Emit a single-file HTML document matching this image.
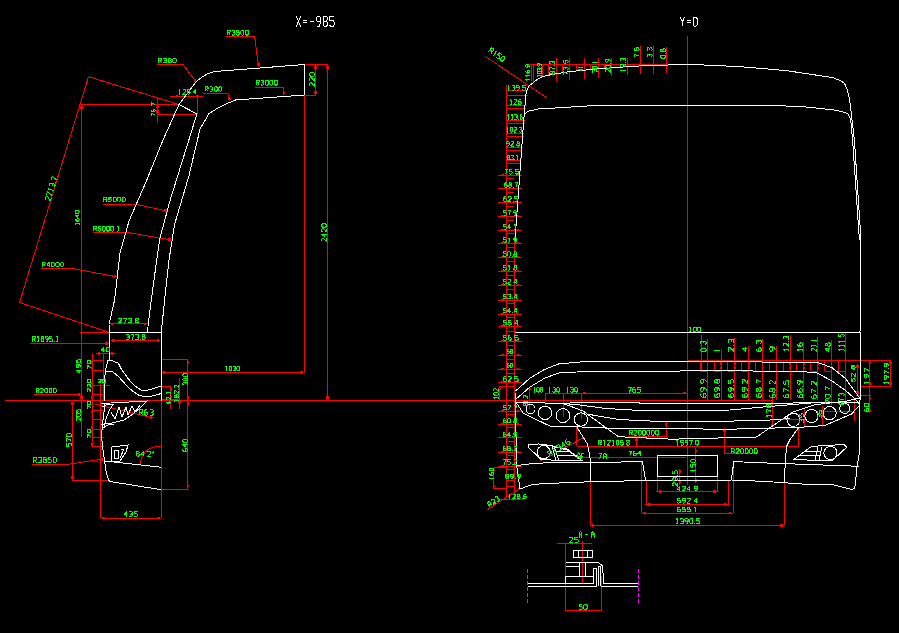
<!DOCTYPE html>
<html><head><meta charset="utf-8"><style>
html,body{margin:0;padding:0;background:#000;width:899px;height:633px;overflow:hidden}
svg{display:block}
text{font-family:"Liberation Sans",sans-serif}
</style></head><body>
<svg width="899" height="633" viewBox="0 0 899 633" shape-rendering="crispEdges">
<rect width="899" height="633" fill="#000"/>
<line x1="5.0" y1="400.5" x2="772.5" y2="400.5" stroke="#f00" stroke-width="1"/>
<polyline points="88.5,76.7 179.0,104.5" stroke="#f00" stroke-width="1" fill="none"/>
<polyline points="88.5,76.7 19.6,302.4 109.0,332.3" stroke="#f00" stroke-width="1" fill="none"/>
<line x1="80.5" y1="104.5" x2="179.0" y2="104.5" stroke="#f00" stroke-width="1"/>
<line x1="81.5" y1="104.5" x2="81.5" y2="437.3" stroke="#f00" stroke-width="1"/>
<line x1="157.5" y1="96.7" x2="157.5" y2="123.4" stroke="#f00" stroke-width="1"/>
<line x1="157.5" y1="114.0" x2="197.0" y2="114.0" stroke="#f00" stroke-width="1"/>
<line x1="170.0" y1="96.1" x2="203.4" y2="96.1" stroke="#f00" stroke-width="1"/>
<line x1="197.0" y1="96.1" x2="197.0" y2="114.0" stroke="#f00" stroke-width="1"/>
<polyline points="225.2,36.3 254.6,36.3 258.6,66.5" stroke="#f00" stroke-width="1" fill="none"/>
<polyline points="157.0,64.5 183.0,64.5 195.6,81.2" stroke="#f00" stroke-width="1" fill="none"/>
<polyline points="203.0,93.4 227.9,93.4 230.0,101.2" stroke="#f00" stroke-width="1" fill="none"/>
<polyline points="255.0,87.4 283.0,87.4 284.0,95.2" stroke="#f00" stroke-width="1" fill="none"/>
<line x1="304.6" y1="64.5" x2="328.0" y2="64.5" stroke="#f00" stroke-width="1"/>
<line x1="315.7" y1="64.5" x2="315.7" y2="95.2" stroke="#f00" stroke-width="1"/>
<line x1="304.6" y1="95.2" x2="316.0" y2="95.2" stroke="#f00" stroke-width="1"/>
<line x1="327.5" y1="64.5" x2="327.5" y2="400.5" stroke="#f00" stroke-width="1"/>
<line x1="304.6" y1="95.2" x2="304.6" y2="372.3" stroke="#f00" stroke-width="1"/>
<line x1="161.3" y1="372.3" x2="304.6" y2="372.3" stroke="#f00" stroke-width="1"/>
<polyline points="103.0,204.0 134.6,204.0 166.9,211.0" stroke="#f00" stroke-width="1" fill="none"/>
<polyline points="93.0,232.3 126.8,232.3 171.3,240.0" stroke="#f00" stroke-width="1" fill="none"/>
<polyline points="41.0,268.3 71.0,268.3 116.8,276.8" stroke="#f00" stroke-width="1" fill="none"/>
<line x1="109.0" y1="323.8" x2="148.0" y2="323.8" stroke="#f00" stroke-width="1"/>
<line x1="80.0" y1="332.3" x2="109.0" y2="332.3" stroke="#f00" stroke-width="1"/>
<line x1="111.0" y1="340.5" x2="160.0" y2="340.5" stroke="#f00" stroke-width="1"/>
<polyline points="30.0,343.4 87.0,343.4 109.0,343.4" stroke="#f00" stroke-width="1" fill="none"/>
<line x1="95.7" y1="353.4" x2="115.7" y2="353.4" stroke="#f00" stroke-width="1"/>
<line x1="93.4" y1="385.0" x2="110.0" y2="385.0" stroke="#f00" stroke-width="1"/>
<polyline points="33.8,394.5 81.0,394.5" stroke="#f00" stroke-width="1" fill="none"/>
<line x1="92.0" y1="353.0" x2="92.0" y2="446.8" stroke="#f00" stroke-width="1"/>
<line x1="100.8" y1="384.0" x2="100.8" y2="518.0" stroke="#f00" stroke-width="1"/>
<line x1="103.4" y1="353.0" x2="103.4" y2="400.0" stroke="#f00" stroke-width="1"/>
<line x1="92.0" y1="360.2" x2="104.0" y2="360.2" stroke="#f00" stroke-width="1"/>
<line x1="92.0" y1="370.8" x2="104.0" y2="370.8" stroke="#f00" stroke-width="1"/>
<line x1="92.0" y1="385.0" x2="104.0" y2="385.0" stroke="#f00" stroke-width="1"/>
<line x1="92.0" y1="394.6" x2="104.0" y2="394.6" stroke="#f00" stroke-width="1"/>
<line x1="92.0" y1="410.0" x2="104.0" y2="410.0" stroke="#f00" stroke-width="1"/>
<line x1="92.0" y1="419.5" x2="104.0" y2="419.5" stroke="#f00" stroke-width="1"/>
<line x1="92.0" y1="429.7" x2="104.0" y2="429.7" stroke="#f00" stroke-width="1"/>
<line x1="92.0" y1="437.3" x2="104.0" y2="437.3" stroke="#f00" stroke-width="1"/>
<line x1="92.0" y1="446.8" x2="104.0" y2="446.8" stroke="#f00" stroke-width="1"/>
<line x1="72.3" y1="402.9" x2="72.3" y2="480.0" stroke="#f00" stroke-width="1"/>
<line x1="72.3" y1="480.0" x2="109.0" y2="480.0" stroke="#f00" stroke-width="1"/>
<polyline points="32.0,464.5 66.7,464.5 103.4,459.0" stroke="#f00" stroke-width="1" fill="none"/>
<polyline points="94.8,404.0 153.5,418.0" stroke="#f00" stroke-width="1" fill="none"/>
<line x1="161.3" y1="400.5" x2="161.3" y2="518.0" stroke="#f00" stroke-width="1"/>
<line x1="100.5" y1="518.0" x2="161.3" y2="518.0" stroke="#f00" stroke-width="1"/>
<line x1="161.3" y1="359.6" x2="188.0" y2="359.6" stroke="#f00" stroke-width="1"/>
<line x1="187.9" y1="359.6" x2="187.9" y2="489.0" stroke="#f00" stroke-width="1"/>
<line x1="161.3" y1="489.0" x2="187.9" y2="489.0" stroke="#f00" stroke-width="1"/>
<line x1="161.3" y1="386.6" x2="171.0" y2="386.6" stroke="#f00" stroke-width="1"/>
<line x1="161.3" y1="399.0" x2="179.0" y2="399.0" stroke="#f00" stroke-width="1"/>
<line x1="170.8" y1="386.6" x2="170.8" y2="408.5" stroke="#f00" stroke-width="1"/>
<line x1="179.7" y1="378.0" x2="179.7" y2="408.5" stroke="#f00" stroke-width="1"/>
<path d="M140.4,463.5 Q142,449 156.6,446.4 L161,446.6" stroke="#f00" stroke-width="1" fill="none"/>
<line x1="687.5" y1="36.0" x2="687.5" y2="485.0" stroke="#f00" stroke-width="1"/>
<polyline points="485.0,56.1 546.7,97.8" stroke="#f00" stroke-width="1" fill="none"/>
<line x1="530.4" y1="64.7" x2="677.0" y2="64.7" stroke="#f00" stroke-width="1"/>
<line x1="531.7" y1="64.0" x2="531.7" y2="81.3" stroke="#f00" stroke-width="1"/>
<line x1="542.7" y1="64.0" x2="542.7" y2="76.6" stroke="#f00" stroke-width="1"/>
<line x1="556.0" y1="57.7" x2="556.0" y2="82.3" stroke="#f00" stroke-width="1"/>
<line x1="569.5" y1="57.7" x2="569.5" y2="80.4" stroke="#f00" stroke-width="1"/>
<line x1="584.3" y1="57.7" x2="584.3" y2="78.5" stroke="#f00" stroke-width="1"/>
<line x1="598.0" y1="57.7" x2="598.0" y2="77.5" stroke="#f00" stroke-width="1"/>
<line x1="611.7" y1="57.7" x2="611.7" y2="75.7" stroke="#f00" stroke-width="1"/>
<line x1="627.4" y1="57.7" x2="627.4" y2="74.7" stroke="#f00" stroke-width="1"/>
<line x1="640.5" y1="46.3" x2="640.5" y2="73.8" stroke="#f00" stroke-width="1"/>
<line x1="653.7" y1="46.3" x2="653.7" y2="73.8" stroke="#f00" stroke-width="1"/>
<line x1="666.2" y1="47.3" x2="666.2" y2="72.8" stroke="#f00" stroke-width="1"/>
<line x1="533.9" y1="64.0" x2="533.9" y2="82.1" stroke="#f00" stroke-width="1"/>
<line x1="548.1" y1="64.0" x2="548.1" y2="75.3" stroke="#f00" stroke-width="1"/>
<line x1="562.4" y1="64.0" x2="562.4" y2="72.8" stroke="#f00" stroke-width="1"/>
<line x1="576.6" y1="64.0" x2="576.6" y2="70.9" stroke="#f00" stroke-width="1"/>
<line x1="590.8" y1="64.0" x2="590.8" y2="69.5" stroke="#f00" stroke-width="1"/>
<line x1="604.5" y1="64.0" x2="604.5" y2="68.3" stroke="#f00" stroke-width="1"/>
<line x1="620.0" y1="64.0" x2="620.0" y2="67.2" stroke="#f00" stroke-width="1"/>
<line x1="633.5" y1="64.0" x2="633.5" y2="66.2" stroke="#f00" stroke-width="1"/>
<line x1="646.5" y1="64.0" x2="646.5" y2="65.8" stroke="#f00" stroke-width="1"/>
<line x1="659.5" y1="64.0" x2="659.5" y2="65.3" stroke="#f00" stroke-width="1"/>
<line x1="506.7" y1="90.6" x2="506.7" y2="498.0" stroke="#f00" stroke-width="1"/>
<line x1="514.3" y1="240.0" x2="514.3" y2="495.5" stroke="#f00" stroke-width="1"/>
<line x1="506.7" y1="85.0" x2="506.7" y2="90.6" stroke="#f00" stroke-width="1"/>
<line x1="506.7" y1="90.8" x2="527.9" y2="90.8" stroke="#f00" stroke-width="1"/>
<line x1="506.7" y1="95.5" x2="527.5" y2="95.5" stroke="#f00" stroke-width="1"/>
<line x1="506.7" y1="105.3" x2="526.6" y2="105.3" stroke="#f00" stroke-width="1"/>
<line x1="506.7" y1="108.5" x2="526.3" y2="108.5" stroke="#f00" stroke-width="1"/>
<line x1="506.7" y1="120.3" x2="525.2" y2="120.3" stroke="#f00" stroke-width="1"/>
<line x1="506.7" y1="123.5" x2="524.9" y2="123.5" stroke="#f00" stroke-width="1"/>
<line x1="506.7" y1="133.0" x2="524.0" y2="133.0" stroke="#f00" stroke-width="1"/>
<line x1="506.7" y1="136.2" x2="523.7" y2="136.2" stroke="#f00" stroke-width="1"/>
<line x1="506.7" y1="147.2" x2="522.7" y2="147.2" stroke="#f00" stroke-width="1"/>
<line x1="506.7" y1="150.4" x2="522.4" y2="150.4" stroke="#f00" stroke-width="1"/>
<line x1="506.7" y1="160.7" x2="521.4" y2="160.7" stroke="#f00" stroke-width="1"/>
<line x1="506.7" y1="163.9" x2="521.1" y2="163.9" stroke="#f00" stroke-width="1"/>
<line x1="498.2" y1="175.2" x2="522.0" y2="175.2" stroke="#f00" stroke-width="1"/>
<line x1="498.2" y1="188.8" x2="522.0" y2="188.8" stroke="#f00" stroke-width="1"/>
<line x1="498.2" y1="202.8" x2="522.0" y2="202.8" stroke="#f00" stroke-width="1"/>
<line x1="498.2" y1="216.6" x2="522.0" y2="216.6" stroke="#f00" stroke-width="1"/>
<line x1="498.2" y1="230.4" x2="522.0" y2="230.4" stroke="#f00" stroke-width="1"/>
<line x1="498.2" y1="243.6" x2="522.0" y2="243.6" stroke="#f00" stroke-width="1"/>
<line x1="498.2" y1="257.5" x2="522.0" y2="257.5" stroke="#f00" stroke-width="1"/>
<line x1="498.2" y1="271.4" x2="522.0" y2="271.4" stroke="#f00" stroke-width="1"/>
<line x1="498.2" y1="285.4" x2="522.0" y2="285.4" stroke="#f00" stroke-width="1"/>
<line x1="498.2" y1="300.6" x2="522.0" y2="300.6" stroke="#f00" stroke-width="1"/>
<line x1="498.2" y1="314.5" x2="522.0" y2="314.5" stroke="#f00" stroke-width="1"/>
<line x1="498.2" y1="326.1" x2="522.0" y2="326.1" stroke="#f00" stroke-width="1"/>
<line x1="498.2" y1="341.3" x2="522.0" y2="341.3" stroke="#f00" stroke-width="1"/>
<line x1="498.2" y1="355.2" x2="522.0" y2="355.2" stroke="#f00" stroke-width="1"/>
<line x1="498.2" y1="369.2" x2="522.0" y2="369.2" stroke="#f00" stroke-width="1"/>
<line x1="498.2" y1="382.5" x2="522.0" y2="382.5" stroke="#f00" stroke-width="1"/>
<line x1="498.2" y1="411.3" x2="522.0" y2="411.3" stroke="#f00" stroke-width="1"/>
<line x1="498.2" y1="424.3" x2="522.0" y2="424.3" stroke="#f00" stroke-width="1"/>
<line x1="498.2" y1="437.8" x2="522.0" y2="437.8" stroke="#f00" stroke-width="1"/>
<line x1="498.2" y1="452.0" x2="522.0" y2="452.0" stroke="#f00" stroke-width="1"/>
<line x1="498.2" y1="466.0" x2="522.0" y2="466.0" stroke="#f00" stroke-width="1"/>
<line x1="498.2" y1="499.8" x2="522.0" y2="499.8" stroke="#f00" stroke-width="1"/>
<line x1="506.7" y1="178.6" x2="514.3" y2="178.6" stroke="#f00" stroke-width="1"/>
<line x1="506.7" y1="192.2" x2="514.3" y2="192.2" stroke="#f00" stroke-width="1"/>
<line x1="506.7" y1="206.2" x2="514.3" y2="206.2" stroke="#f00" stroke-width="1"/>
<line x1="506.7" y1="220.0" x2="514.3" y2="220.0" stroke="#f00" stroke-width="1"/>
<line x1="506.7" y1="233.8" x2="514.3" y2="233.8" stroke="#f00" stroke-width="1"/>
<line x1="506.7" y1="247.4" x2="514.3" y2="247.4" stroke="#f00" stroke-width="1"/>
<line x1="506.7" y1="261.3" x2="514.3" y2="261.3" stroke="#f00" stroke-width="1"/>
<line x1="506.7" y1="275.2" x2="514.3" y2="275.2" stroke="#f00" stroke-width="1"/>
<line x1="506.7" y1="289.2" x2="514.3" y2="289.2" stroke="#f00" stroke-width="1"/>
<line x1="506.7" y1="303.0" x2="514.3" y2="303.0" stroke="#f00" stroke-width="1"/>
<line x1="506.7" y1="317.3" x2="514.3" y2="317.3" stroke="#f00" stroke-width="1"/>
<line x1="506.7" y1="331.2" x2="514.3" y2="331.2" stroke="#f00" stroke-width="1"/>
<line x1="506.7" y1="345.0" x2="514.3" y2="345.0" stroke="#f00" stroke-width="1"/>
<line x1="506.7" y1="359.0" x2="514.3" y2="359.0" stroke="#f00" stroke-width="1"/>
<line x1="506.7" y1="373.0" x2="514.3" y2="373.0" stroke="#f00" stroke-width="1"/>
<line x1="506.7" y1="386.3" x2="514.3" y2="386.3" stroke="#f00" stroke-width="1"/>
<line x1="506.7" y1="414.5" x2="514.3" y2="414.5" stroke="#f00" stroke-width="1"/>
<line x1="506.7" y1="427.5" x2="514.3" y2="427.5" stroke="#f00" stroke-width="1"/>
<line x1="506.7" y1="441.0" x2="514.3" y2="441.0" stroke="#f00" stroke-width="1"/>
<line x1="506.7" y1="455.2" x2="514.3" y2="455.2" stroke="#f00" stroke-width="1"/>
<line x1="506.7" y1="469.0" x2="514.3" y2="469.0" stroke="#f00" stroke-width="1"/>
<line x1="506.7" y1="480.0" x2="514.3" y2="480.0" stroke="#f00" stroke-width="1"/>
<line x1="506.7" y1="486.0" x2="514.3" y2="486.0" stroke="#f00" stroke-width="1"/>
<line x1="493.9" y1="467.7" x2="493.9" y2="488.5" stroke="#f00" stroke-width="1"/>
<line x1="493.9" y1="467.7" x2="506.0" y2="467.7" stroke="#f00" stroke-width="1"/>
<line x1="493.9" y1="488.5" x2="506.0" y2="488.5" stroke="#f00" stroke-width="1"/>
<polyline points="487.0,510.0 520.0,488.5" stroke="#f00" stroke-width="1" fill="none"/>
<line x1="499.5" y1="386.3" x2="499.5" y2="400.5" stroke="#f00" stroke-width="1"/>
<line x1="499.5" y1="386.3" x2="506.7" y2="386.3" stroke="#f00" stroke-width="1"/>
<line x1="544.5" y1="393.4" x2="600.0" y2="393.4" stroke="#f00" stroke-width="1"/>
<line x1="545.6" y1="393.4" x2="545.6" y2="407.0" stroke="#f00" stroke-width="1"/>
<line x1="563.4" y1="393.4" x2="563.4" y2="417.0" stroke="#f00" stroke-width="1"/>
<line x1="581.8" y1="393.4" x2="581.8" y2="419.0" stroke="#f00" stroke-width="1"/>
<line x1="529.8" y1="388.0" x2="529.8" y2="409.0" stroke="#f00" stroke-width="1"/>
<line x1="581.7" y1="393.0" x2="686.8" y2="393.0" stroke="#f00" stroke-width="1"/>
<line x1="581.7" y1="393.0" x2="581.7" y2="419.2" stroke="#f00" stroke-width="1"/>
<line x1="688.0" y1="360.4" x2="890.7" y2="360.4" stroke="#f00" stroke-width="1"/>
<line x1="707.2" y1="339.0" x2="707.2" y2="399.5" stroke="#f00" stroke-width="1"/>
<line x1="700.2" y1="360.4" x2="700.2" y2="371.0" stroke="#f00" stroke-width="1"/>
<line x1="700.2" y1="371.0" x2="707.2" y2="371.0" stroke="#f00" stroke-width="1"/>
<line x1="721.0" y1="349.0" x2="721.0" y2="399.5" stroke="#f00" stroke-width="1"/>
<line x1="714.0" y1="360.4" x2="714.0" y2="371.0" stroke="#f00" stroke-width="1"/>
<line x1="714.0" y1="371.0" x2="721.0" y2="371.0" stroke="#f00" stroke-width="1"/>
<line x1="734.9" y1="338.0" x2="734.9" y2="399.5" stroke="#f00" stroke-width="1"/>
<line x1="727.9" y1="360.4" x2="727.9" y2="371.0" stroke="#f00" stroke-width="1"/>
<line x1="727.9" y1="371.0" x2="734.9" y2="371.0" stroke="#f00" stroke-width="1"/>
<line x1="748.6" y1="346.0" x2="748.6" y2="399.5" stroke="#f00" stroke-width="1"/>
<line x1="741.6" y1="360.4" x2="741.6" y2="371.0" stroke="#f00" stroke-width="1"/>
<line x1="741.6" y1="371.0" x2="748.6" y2="371.0" stroke="#f00" stroke-width="1"/>
<line x1="762.5" y1="339.0" x2="762.5" y2="399.5" stroke="#f00" stroke-width="1"/>
<line x1="755.5" y1="360.4" x2="755.5" y2="371.0" stroke="#f00" stroke-width="1"/>
<line x1="755.5" y1="371.0" x2="762.5" y2="371.0" stroke="#f00" stroke-width="1"/>
<line x1="776.2" y1="345.7" x2="776.2" y2="399.5" stroke="#f00" stroke-width="1"/>
<line x1="769.2" y1="360.4" x2="769.2" y2="371.0" stroke="#f00" stroke-width="1"/>
<line x1="769.2" y1="371.0" x2="776.2" y2="371.0" stroke="#f00" stroke-width="1"/>
<line x1="790.0" y1="335.0" x2="790.0" y2="399.5" stroke="#f00" stroke-width="1"/>
<line x1="783.0" y1="360.4" x2="783.0" y2="371.0" stroke="#f00" stroke-width="1"/>
<line x1="783.0" y1="371.0" x2="790.0" y2="371.0" stroke="#f00" stroke-width="1"/>
<line x1="803.9" y1="341.7" x2="803.9" y2="399.5" stroke="#f00" stroke-width="1"/>
<line x1="796.9" y1="360.4" x2="796.9" y2="371.0" stroke="#f00" stroke-width="1"/>
<line x1="796.9" y1="371.0" x2="803.9" y2="371.0" stroke="#f00" stroke-width="1"/>
<line x1="817.6" y1="337.0" x2="817.6" y2="399.5" stroke="#f00" stroke-width="1"/>
<line x1="810.6" y1="360.4" x2="810.6" y2="371.0" stroke="#f00" stroke-width="1"/>
<line x1="810.6" y1="371.0" x2="817.6" y2="371.0" stroke="#f00" stroke-width="1"/>
<line x1="831.5" y1="339.7" x2="831.5" y2="405.0" stroke="#f00" stroke-width="1"/>
<line x1="824.5" y1="360.4" x2="824.5" y2="371.0" stroke="#f00" stroke-width="1"/>
<line x1="824.5" y1="371.0" x2="831.5" y2="371.0" stroke="#f00" stroke-width="1"/>
<line x1="845.2" y1="333.0" x2="845.2" y2="405.0" stroke="#f00" stroke-width="1"/>
<line x1="838.2" y1="360.4" x2="838.2" y2="371.0" stroke="#f00" stroke-width="1"/>
<line x1="838.2" y1="371.0" x2="845.2" y2="371.0" stroke="#f00" stroke-width="1"/>
<line x1="701.0" y1="335.0" x2="701.0" y2="371.0" stroke="#f00" stroke-width="1"/>
<line x1="857.5" y1="364.0" x2="857.5" y2="395.0" stroke="#f00" stroke-width="1"/>
<line x1="856.0" y1="395.0" x2="871.0" y2="395.0" stroke="#f00" stroke-width="1"/>
<line x1="869.9" y1="360.4" x2="869.9" y2="413.0" stroke="#f00" stroke-width="1"/>
<line x1="890.7" y1="360.4" x2="890.7" y2="386.0" stroke="#f00" stroke-width="1"/>
<line x1="860.0" y1="386.0" x2="890.7" y2="386.0" stroke="#f00" stroke-width="1"/>
<line x1="772.1" y1="393.0" x2="772.1" y2="428.4" stroke="#f00" stroke-width="1"/>
<line x1="772.0" y1="419.3" x2="802.7" y2="419.3" stroke="#f00" stroke-width="1"/>
<line x1="804.2" y1="408.0" x2="804.2" y2="428.4" stroke="#f00" stroke-width="1"/>
<line x1="822.4" y1="405.5" x2="822.4" y2="424.5" stroke="#f00" stroke-width="1"/>
<line x1="822.4" y1="411.8" x2="851.6" y2="411.8" stroke="#f00" stroke-width="1"/>
<line x1="854.8" y1="398.0" x2="854.8" y2="420.5" stroke="#f00" stroke-width="1"/>
<polyline points="628.4,436.7 666.0,436.7 666.0,421.7" stroke="#f00" stroke-width="1" fill="none"/>
<line x1="576.8" y1="427.0" x2="576.8" y2="446.2" stroke="#f00" stroke-width="1"/>
<line x1="576.8" y1="446.2" x2="798.4" y2="446.2" stroke="#f00" stroke-width="1"/>
<line x1="636.7" y1="436.7" x2="636.7" y2="446.2" stroke="#f00" stroke-width="1"/>
<line x1="798.4" y1="427.6" x2="798.4" y2="446.6" stroke="#f00" stroke-width="1"/>
<polyline points="724.3,428.4 724.7,453.0 758.0,453.0" stroke="#f00" stroke-width="1" fill="none"/>
<line x1="576.0" y1="457.0" x2="685.8" y2="457.0" stroke="#f00" stroke-width="1"/>
<line x1="695.8" y1="448.0" x2="695.8" y2="483.0" stroke="#f00" stroke-width="1"/>
<line x1="679.8" y1="469.0" x2="679.8" y2="484.5" stroke="#f00" stroke-width="1"/>
<line x1="657.2" y1="476.5" x2="657.2" y2="491.7" stroke="#f00" stroke-width="1"/>
<line x1="717.4" y1="476.5" x2="717.4" y2="491.7" stroke="#f00" stroke-width="1"/>
<line x1="656.0" y1="491.7" x2="718.5" y2="491.7" stroke="#f00" stroke-width="1"/>
<line x1="646.6" y1="480.0" x2="646.6" y2="504.2" stroke="#f00" stroke-width="1"/>
<line x1="728.0" y1="480.0" x2="728.0" y2="504.2" stroke="#f00" stroke-width="1"/>
<line x1="645.0" y1="504.2" x2="729.5" y2="504.2" stroke="#f00" stroke-width="1"/>
<line x1="641.6" y1="461.5" x2="641.6" y2="513.1" stroke="#f00" stroke-width="1"/>
<line x1="733.0" y1="461.5" x2="733.0" y2="513.1" stroke="#f00" stroke-width="1"/>
<line x1="641.6" y1="513.1" x2="733.0" y2="513.1" stroke="#f00" stroke-width="1"/>
<line x1="590.0" y1="482.0" x2="590.0" y2="525.3" stroke="#f00" stroke-width="1"/>
<line x1="784.6" y1="482.0" x2="784.6" y2="525.3" stroke="#f00" stroke-width="1"/>
<line x1="590.0" y1="525.3" x2="784.6" y2="525.3" stroke="#f00" stroke-width="1"/>
<polyline points="540.0,461.2 583.4,437.8" stroke="#f00" stroke-width="1" fill="none"/>
<line x1="557.0" y1="543.2" x2="592.0" y2="543.2" stroke="#f00" stroke-width="1"/>
<line x1="565.7" y1="543.2" x2="565.7" y2="611.0" stroke="#f00" stroke-width="1"/>
<line x1="601.0" y1="576.2" x2="601.0" y2="611.0" stroke="#f00" stroke-width="1"/>
<line x1="582.5" y1="540.5" x2="582.5" y2="584.3" stroke="#f00" stroke-width="1"/>
<line x1="565.7" y1="610.2" x2="601.0" y2="610.2" stroke="#f00" stroke-width="1"/>
<rect x="314.4" y="66.2" width="2.6" height="2.6" fill="#f00" stroke="#f00" stroke-width="0.01"/>
<rect x="314.4" y="91.2" width="2.6" height="2.6" fill="#f00" stroke="#f00" stroke-width="0.01"/>
<rect x="326.2" y="66.2" width="2.6" height="2.6" fill="#f00" stroke="#f00" stroke-width="0.01"/>
<rect x="326.2" y="396.2" width="2.6" height="2.6" fill="#f00" stroke="#f00" stroke-width="0.01"/>
<rect x="162.7" y="371.0" width="2.6" height="2.6" fill="#f00" stroke="#f00" stroke-width="0.01"/>
<rect x="300.2" y="371.0" width="2.6" height="2.6" fill="#f00" stroke="#f00" stroke-width="0.01"/>
<rect x="175.7" y="94.8" width="2.6" height="2.6" fill="#f00" stroke="#f00" stroke-width="0.01"/>
<rect x="196.2" y="94.8" width="2.6" height="2.6" fill="#f00" stroke="#f00" stroke-width="0.01"/>
<rect x="156.2" y="105.7" width="2.6" height="2.6" fill="#f00" stroke="#f00" stroke-width="0.01"/>
<rect x="156.2" y="110.2" width="2.6" height="2.6" fill="#f00" stroke="#f00" stroke-width="0.01"/>
<rect x="110.7" y="322.5" width="2.6" height="2.6" fill="#f00" stroke="#f00" stroke-width="0.01"/>
<rect x="143.7" y="322.5" width="2.6" height="2.6" fill="#f00" stroke="#f00" stroke-width="0.01"/>
<rect x="112.2" y="339.2" width="2.6" height="2.6" fill="#f00" stroke="#f00" stroke-width="0.01"/>
<rect x="156.7" y="339.2" width="2.6" height="2.6" fill="#f00" stroke="#f00" stroke-width="0.01"/>
<rect x="97.7" y="352.1" width="2.6" height="2.6" fill="#f00" stroke="#f00" stroke-width="0.01"/>
<rect x="110.7" y="352.1" width="2.6" height="2.6" fill="#f00" stroke="#f00" stroke-width="0.01"/>
<rect x="186.6" y="361.2" width="2.6" height="2.6" fill="#f00" stroke="#f00" stroke-width="0.01"/>
<rect x="186.6" y="396.2" width="2.6" height="2.6" fill="#f00" stroke="#f00" stroke-width="0.01"/>
<rect x="186.6" y="402.2" width="2.6" height="2.6" fill="#f00" stroke="#f00" stroke-width="0.01"/>
<rect x="186.6" y="484.7" width="2.6" height="2.6" fill="#f00" stroke="#f00" stroke-width="0.01"/>
<rect x="102.2" y="516.7" width="2.6" height="2.6" fill="#f00" stroke="#f00" stroke-width="0.01"/>
<rect x="157.2" y="516.7" width="2.6" height="2.6" fill="#f00" stroke="#f00" stroke-width="0.01"/>
<rect x="169.5" y="388.2" width="2.6" height="2.6" fill="#f00" stroke="#f00" stroke-width="0.01"/>
<rect x="169.5" y="395.7" width="2.6" height="2.6" fill="#f00" stroke="#f00" stroke-width="0.01"/>
<rect x="178.4" y="400.7" width="2.6" height="2.6" fill="#f00" stroke="#f00" stroke-width="0.01"/>
<rect x="71.0" y="402.2" width="2.6" height="2.6" fill="#f00" stroke="#f00" stroke-width="0.01"/>
<rect x="71.0" y="476.2" width="2.6" height="2.6" fill="#f00" stroke="#f00" stroke-width="0.01"/>
<rect x="80.2" y="106.2" width="2.6" height="2.6" fill="#f00" stroke="#f00" stroke-width="0.01"/>
<rect x="80.2" y="396.2" width="2.6" height="2.6" fill="#f00" stroke="#f00" stroke-width="0.01"/>
<rect x="257.1" y="63.2" width="2.6" height="2.6" fill="#f00" stroke="#f00" stroke-width="0.01"/>
<rect x="193.7" y="79.2" width="2.6" height="2.6" fill="#f00" stroke="#f00" stroke-width="0.01"/>
<rect x="228.4" y="97.7" width="2.6" height="2.6" fill="#f00" stroke="#f00" stroke-width="0.01"/>
<rect x="282.7" y="91.7" width="2.6" height="2.6" fill="#f00" stroke="#f00" stroke-width="0.01"/>
<rect x="164.2" y="209.4" width="2.6" height="2.6" fill="#f00" stroke="#f00" stroke-width="0.01"/>
<rect x="168.2" y="238.2" width="2.6" height="2.6" fill="#f00" stroke="#f00" stroke-width="0.01"/>
<rect x="113.7" y="275.0" width="2.6" height="2.6" fill="#f00" stroke="#f00" stroke-width="0.01"/>
<rect x="105.2" y="342.1" width="2.6" height="2.6" fill="#f00" stroke="#f00" stroke-width="0.01"/>
<rect x="77.7" y="393.2" width="2.6" height="2.6" fill="#f00" stroke="#f00" stroke-width="0.01"/>
<rect x="100.2" y="458.1" width="2.6" height="2.6" fill="#f00" stroke="#f00" stroke-width="0.01"/>
<rect x="149.7" y="416.0" width="2.6" height="2.6" fill="#f00" stroke="#f00" stroke-width="0.01"/>
<rect x="90.7" y="361.2" width="2.6" height="2.6" fill="#f00" stroke="#f00" stroke-width="0.01"/>
<rect x="90.7" y="367.2" width="2.6" height="2.6" fill="#f00" stroke="#f00" stroke-width="0.01"/>
<rect x="90.7" y="381.7" width="2.6" height="2.6" fill="#f00" stroke="#f00" stroke-width="0.01"/>
<rect x="90.7" y="385.7" width="2.6" height="2.6" fill="#f00" stroke="#f00" stroke-width="0.01"/>
<rect x="90.7" y="396.2" width="2.6" height="2.6" fill="#f00" stroke="#f00" stroke-width="0.01"/>
<rect x="90.7" y="410.7" width="2.6" height="2.6" fill="#f00" stroke="#f00" stroke-width="0.01"/>
<rect x="90.7" y="426.2" width="2.6" height="2.6" fill="#f00" stroke="#f00" stroke-width="0.01"/>
<rect x="90.7" y="430.2" width="2.6" height="2.6" fill="#f00" stroke="#f00" stroke-width="0.01"/>
<rect x="90.7" y="443.2" width="2.6" height="2.6" fill="#f00" stroke="#f00" stroke-width="0.01"/>
<rect x="648.2" y="502.9" width="2.6" height="2.6" fill="#f00" stroke="#f00" stroke-width="0.01"/>
<rect x="723.7" y="502.9" width="2.6" height="2.6" fill="#f00" stroke="#f00" stroke-width="0.01"/>
<rect x="643.2" y="511.8" width="2.6" height="2.6" fill="#f00" stroke="#f00" stroke-width="0.01"/>
<rect x="728.7" y="511.8" width="2.6" height="2.6" fill="#f00" stroke="#f00" stroke-width="0.01"/>
<rect x="658.7" y="490.4" width="2.6" height="2.6" fill="#f00" stroke="#f00" stroke-width="0.01"/>
<rect x="713.2" y="490.4" width="2.6" height="2.6" fill="#f00" stroke="#f00" stroke-width="0.01"/>
<rect x="591.7" y="524.0" width="2.6" height="2.6" fill="#f00" stroke="#f00" stroke-width="0.01"/>
<rect x="780.2" y="524.0" width="2.6" height="2.6" fill="#f00" stroke="#f00" stroke-width="0.01"/>
<rect x="583.2" y="391.7" width="2.6" height="2.6" fill="#f00" stroke="#f00" stroke-width="0.01"/>
<rect x="683.2" y="391.7" width="2.6" height="2.6" fill="#f00" stroke="#f00" stroke-width="0.01"/>
<rect x="694.5" y="449.7" width="2.6" height="2.6" fill="#f00" stroke="#f00" stroke-width="0.01"/>
<rect x="694.5" y="479.2" width="2.6" height="2.6" fill="#f00" stroke="#f00" stroke-width="0.01"/>
<rect x="723.0" y="429.7" width="2.6" height="2.6" fill="#f00" stroke="#f00" stroke-width="0.01"/>
<rect x="664.7" y="423.2" width="2.6" height="2.6" fill="#f00" stroke="#f00" stroke-width="0.01"/>
<rect x="635.4" y="438.7" width="2.6" height="2.6" fill="#f00" stroke="#f00" stroke-width="0.01"/>
<rect x="797.1" y="428.7" width="2.6" height="2.6" fill="#f00" stroke="#f00" stroke-width="0.01"/>
<rect x="575.5" y="428.7" width="2.6" height="2.6" fill="#f00" stroke="#f00" stroke-width="0.01"/>
<rect x="581.7" y="436.7" width="2.6" height="2.6" fill="#f00" stroke="#f00" stroke-width="0.01"/>
<rect x="889.4" y="361.7" width="2.6" height="2.6" fill="#f00" stroke="#f00" stroke-width="0.01"/>
<rect x="889.4" y="382.2" width="2.6" height="2.6" fill="#f00" stroke="#f00" stroke-width="0.01"/>
<rect x="868.6" y="361.7" width="2.6" height="2.6" fill="#f00" stroke="#f00" stroke-width="0.01"/>
<rect x="868.6" y="382.2" width="2.6" height="2.6" fill="#f00" stroke="#f00" stroke-width="0.01"/>
<rect x="868.6" y="396.7" width="2.6" height="2.6" fill="#f00" stroke="#f00" stroke-width="0.01"/>
<rect x="868.6" y="409.2" width="2.6" height="2.6" fill="#f00" stroke="#f00" stroke-width="0.01"/>
<rect x="770.8" y="401.7" width="2.6" height="2.6" fill="#f00" stroke="#f00" stroke-width="0.01"/>
<rect x="770.8" y="424.2" width="2.6" height="2.6" fill="#f00" stroke="#f00" stroke-width="0.01"/>
<rect x="856.2" y="365.2" width="2.6" height="2.6" fill="#f00" stroke="#f00" stroke-width="0.01"/>
<rect x="856.2" y="391.2" width="2.6" height="2.6" fill="#f00" stroke="#f00" stroke-width="0.01"/>
<rect x="492.7" y="468.7" width="2.6" height="2.6" fill="#f00" stroke="#f00" stroke-width="0.01"/>
<rect x="492.7" y="484.7" width="2.6" height="2.6" fill="#f00" stroke="#f00" stroke-width="0.01"/>
<rect x="498.2" y="387.7" width="2.6" height="2.6" fill="#f00" stroke="#f00" stroke-width="0.01"/>
<rect x="517.7" y="487.7" width="2.6" height="2.6" fill="#f00" stroke="#f00" stroke-width="0.01"/>
<rect x="528.5" y="387.7" width="2.6" height="2.6" fill="#f00" stroke="#f00" stroke-width="0.01"/>
<rect x="678.5" y="470.2" width="2.6" height="2.6" fill="#f00" stroke="#f00" stroke-width="0.01"/>
<rect x="678.5" y="480.7" width="2.6" height="2.6" fill="#f00" stroke="#f00" stroke-width="0.01"/>
<rect x="501.3" y="173.9" width="2.4" height="1.6" fill="#f00" stroke="#f00" stroke-width="0.01"/>
<rect x="516.8" y="173.9" width="2.4" height="1.6" fill="#f00" stroke="#f00" stroke-width="0.01"/>
<rect x="501.3" y="187.5" width="2.4" height="1.6" fill="#f00" stroke="#f00" stroke-width="0.01"/>
<rect x="516.8" y="187.5" width="2.4" height="1.6" fill="#f00" stroke="#f00" stroke-width="0.01"/>
<rect x="501.3" y="201.5" width="2.4" height="1.6" fill="#f00" stroke="#f00" stroke-width="0.01"/>
<rect x="516.8" y="201.5" width="2.4" height="1.6" fill="#f00" stroke="#f00" stroke-width="0.01"/>
<rect x="501.3" y="215.3" width="2.4" height="1.6" fill="#f00" stroke="#f00" stroke-width="0.01"/>
<rect x="516.8" y="215.3" width="2.4" height="1.6" fill="#f00" stroke="#f00" stroke-width="0.01"/>
<rect x="501.3" y="229.1" width="2.4" height="1.6" fill="#f00" stroke="#f00" stroke-width="0.01"/>
<rect x="516.8" y="229.1" width="2.4" height="1.6" fill="#f00" stroke="#f00" stroke-width="0.01"/>
<rect x="501.3" y="242.3" width="2.4" height="1.6" fill="#f00" stroke="#f00" stroke-width="0.01"/>
<rect x="516.8" y="242.3" width="2.4" height="1.6" fill="#f00" stroke="#f00" stroke-width="0.01"/>
<rect x="501.3" y="256.2" width="2.4" height="1.6" fill="#f00" stroke="#f00" stroke-width="0.01"/>
<rect x="516.8" y="256.2" width="2.4" height="1.6" fill="#f00" stroke="#f00" stroke-width="0.01"/>
<rect x="501.3" y="270.1" width="2.4" height="1.6" fill="#f00" stroke="#f00" stroke-width="0.01"/>
<rect x="516.8" y="270.1" width="2.4" height="1.6" fill="#f00" stroke="#f00" stroke-width="0.01"/>
<rect x="501.3" y="284.1" width="2.4" height="1.6" fill="#f00" stroke="#f00" stroke-width="0.01"/>
<rect x="516.8" y="284.1" width="2.4" height="1.6" fill="#f00" stroke="#f00" stroke-width="0.01"/>
<rect x="501.3" y="299.3" width="2.4" height="1.6" fill="#f00" stroke="#f00" stroke-width="0.01"/>
<rect x="516.8" y="299.3" width="2.4" height="1.6" fill="#f00" stroke="#f00" stroke-width="0.01"/>
<rect x="501.3" y="313.2" width="2.4" height="1.6" fill="#f00" stroke="#f00" stroke-width="0.01"/>
<rect x="516.8" y="313.2" width="2.4" height="1.6" fill="#f00" stroke="#f00" stroke-width="0.01"/>
<rect x="501.3" y="324.8" width="2.4" height="1.6" fill="#f00" stroke="#f00" stroke-width="0.01"/>
<rect x="516.8" y="324.8" width="2.4" height="1.6" fill="#f00" stroke="#f00" stroke-width="0.01"/>
<rect x="501.3" y="340.0" width="2.4" height="1.6" fill="#f00" stroke="#f00" stroke-width="0.01"/>
<rect x="516.8" y="340.0" width="2.4" height="1.6" fill="#f00" stroke="#f00" stroke-width="0.01"/>
<rect x="501.3" y="353.9" width="2.4" height="1.6" fill="#f00" stroke="#f00" stroke-width="0.01"/>
<rect x="516.8" y="353.9" width="2.4" height="1.6" fill="#f00" stroke="#f00" stroke-width="0.01"/>
<rect x="501.3" y="367.9" width="2.4" height="1.6" fill="#f00" stroke="#f00" stroke-width="0.01"/>
<rect x="516.8" y="367.9" width="2.4" height="1.6" fill="#f00" stroke="#f00" stroke-width="0.01"/>
<rect x="501.3" y="381.2" width="2.4" height="1.6" fill="#f00" stroke="#f00" stroke-width="0.01"/>
<rect x="516.8" y="381.2" width="2.4" height="1.6" fill="#f00" stroke="#f00" stroke-width="0.01"/>
<rect x="501.3" y="410.0" width="2.4" height="1.6" fill="#f00" stroke="#f00" stroke-width="0.01"/>
<rect x="516.8" y="410.0" width="2.4" height="1.6" fill="#f00" stroke="#f00" stroke-width="0.01"/>
<rect x="501.3" y="423.0" width="2.4" height="1.6" fill="#f00" stroke="#f00" stroke-width="0.01"/>
<rect x="516.8" y="423.0" width="2.4" height="1.6" fill="#f00" stroke="#f00" stroke-width="0.01"/>
<rect x="501.3" y="436.5" width="2.4" height="1.6" fill="#f00" stroke="#f00" stroke-width="0.01"/>
<rect x="516.8" y="436.5" width="2.4" height="1.6" fill="#f00" stroke="#f00" stroke-width="0.01"/>
<rect x="501.3" y="450.7" width="2.4" height="1.6" fill="#f00" stroke="#f00" stroke-width="0.01"/>
<rect x="516.8" y="450.7" width="2.4" height="1.6" fill="#f00" stroke="#f00" stroke-width="0.01"/>
<rect x="501.3" y="464.7" width="2.4" height="1.6" fill="#f00" stroke="#f00" stroke-width="0.01"/>
<rect x="516.8" y="464.7" width="2.4" height="1.6" fill="#f00" stroke="#f00" stroke-width="0.01"/>
<rect x="706.5" y="362.3" width="1.6" height="2.4" fill="#f00" stroke="#f00" stroke-width="0.01"/>
<rect x="706.5" y="366.8" width="1.6" height="2.4" fill="#f00" stroke="#f00" stroke-width="0.01"/>
<rect x="720.2" y="362.3" width="1.6" height="2.4" fill="#f00" stroke="#f00" stroke-width="0.01"/>
<rect x="720.2" y="366.8" width="1.6" height="2.4" fill="#f00" stroke="#f00" stroke-width="0.01"/>
<rect x="734.1" y="362.3" width="1.6" height="2.4" fill="#f00" stroke="#f00" stroke-width="0.01"/>
<rect x="734.1" y="366.8" width="1.6" height="2.4" fill="#f00" stroke="#f00" stroke-width="0.01"/>
<rect x="747.9" y="362.3" width="1.6" height="2.4" fill="#f00" stroke="#f00" stroke-width="0.01"/>
<rect x="747.9" y="366.8" width="1.6" height="2.4" fill="#f00" stroke="#f00" stroke-width="0.01"/>
<rect x="761.7" y="362.3" width="1.6" height="2.4" fill="#f00" stroke="#f00" stroke-width="0.01"/>
<rect x="761.7" y="366.8" width="1.6" height="2.4" fill="#f00" stroke="#f00" stroke-width="0.01"/>
<rect x="775.5" y="362.3" width="1.6" height="2.4" fill="#f00" stroke="#f00" stroke-width="0.01"/>
<rect x="775.5" y="366.8" width="1.6" height="2.4" fill="#f00" stroke="#f00" stroke-width="0.01"/>
<rect x="789.2" y="362.3" width="1.6" height="2.4" fill="#f00" stroke="#f00" stroke-width="0.01"/>
<rect x="789.2" y="366.8" width="1.6" height="2.4" fill="#f00" stroke="#f00" stroke-width="0.01"/>
<rect x="803.1" y="362.3" width="1.6" height="2.4" fill="#f00" stroke="#f00" stroke-width="0.01"/>
<rect x="803.1" y="366.8" width="1.6" height="2.4" fill="#f00" stroke="#f00" stroke-width="0.01"/>
<rect x="816.9" y="362.3" width="1.6" height="2.4" fill="#f00" stroke="#f00" stroke-width="0.01"/>
<rect x="816.9" y="366.8" width="1.6" height="2.4" fill="#f00" stroke="#f00" stroke-width="0.01"/>
<rect x="830.7" y="362.3" width="1.6" height="2.4" fill="#f00" stroke="#f00" stroke-width="0.01"/>
<rect x="830.7" y="366.8" width="1.6" height="2.4" fill="#f00" stroke="#f00" stroke-width="0.01"/>
<rect x="844.5" y="362.3" width="1.6" height="2.4" fill="#f00" stroke="#f00" stroke-width="0.01"/>
<rect x="844.5" y="366.8" width="1.6" height="2.4" fill="#f00" stroke="#f00" stroke-width="0.01"/>
<line x1="527.7" y1="569" x2="527.7" y2="603" stroke="#f0f" stroke-width="1" stroke-dasharray="4,2"/>
<line x1="638.4" y1="569" x2="638.4" y2="603" stroke="#f0f" stroke-width="1" stroke-dasharray="4,2"/>
<polyline points="304.6,64.5 215.0,71.5 207.0,74.0 200.0,78.5 195.6,82.3 179.0,104.5 163.0,140.0 146.8,180.0 129.0,221.0 120.0,253.0 114.6,300.0 109.0,324.5 109.0,360.0" stroke="#fff" stroke-width="1" fill="none"/>
<polyline points="179.0,104.5 196.9,114.0 170.2,200.0 160.0,237.8 156.7,260.0 151.3,300.0 147.3,332.3" stroke="#fff" stroke-width="1" fill="none"/>
<polyline points="304.6,64.5 304.6,95.0 235.6,100.0 226.0,104.0 218.0,108.0 209.0,113.5 200.0,129.0 189.0,175.6 174.5,224.6 169.0,260.0 164.6,300.0 161.3,332.0 161.3,400.5" stroke="#fff" stroke-width="1" fill="none"/>
<line x1="109.0" y1="332.3" x2="161.3" y2="332.3" stroke="#fff" stroke-width="1"/>
<polyline points="108.0,360.4 113.0,361.0 118.4,363.3 121.3,369.0 128.0,378.4 132.0,383.0 136.4,387.0 141.0,390.0 145.0,390.8 152.0,389.0 161.0,386.0" stroke="#fff" stroke-width="1" fill="none"/>
<polyline points="105.2,370.9 112.7,371.8 118.4,376.5 123.0,381.5 128.0,387.0 133.0,391.5 139.3,395.5 145.0,396.6 150.7,396.4 161.0,393.6" stroke="#fff" stroke-width="1" fill="none"/>
<polyline points="105.0,404.0 103.0,420.0 101.5,435.0 102.3,445.0 104.6,461.0 106.3,473.0 108.6,480.0 110.0,481.5 161.3,489.7" stroke="#fff" stroke-width="1" fill="none"/>
<line x1="104.6" y1="461.0" x2="161.3" y2="467.3" stroke="#fff" stroke-width="1"/>
<polyline points="108.0,360.4 105.2,370.9 104.5,385.0 104.5,401.0" stroke="#fff" stroke-width="1" fill="none"/>
<polyline points="101.5,403.5 147.0,401.0 140.0,408.0 133.0,414.0 124.0,420.0 112.0,423.0 101.5,424.5" stroke="#fff" stroke-width="1" fill="none"/>
<polyline points="102.0,407.0 108.0,404.0 113.0,404.5 109.0,411.0 106.0,419.0 104.0,428.0" stroke="#fff" stroke-width="1" fill="none"/>
<polyline points="111.0,412.0 115.0,419.0 119.0,407.0 122.0,417.0 126.0,407.0 128.0,415.0 132.0,406.0 135.0,412.0 140.0,405.0" stroke="#fff" stroke-width="1" fill="none"/>
<polyline points="102.0,428.0 108.0,425.0 114.0,424.0" stroke="#fff" stroke-width="1" fill="none"/>
<path d="M112,447 L128,445 L126,452 L120,461 L111,461 Z M114,450 L118,450 L118,458 L114,458 Z M121,449 L124,449 L120,458" stroke="#fff" stroke-width="1" fill="none"/>
<line x1="179.0" y1="104.5" x2="197.0" y2="114.0" stroke="#fff" stroke-width="1"/>
<path d="M296.2,26.6 L300.7,16.1 M296.2,16.1 L300.7,26.6 M302.9,22.7 L307.3,22.7 M302.9,20.0 L307.3,20.0 M309.6,21.4 L314.0,21.4 M320.7,20.0 L319.4,21.6 L317.6,21.6 L316.3,20.0 L316.3,17.7 L317.6,16.1 L319.4,16.1 L320.7,17.7 L320.7,22.7 L319.1,26.6 L317.4,26.6 M324.3,21.1 L323.4,20.0 L323.4,17.1 L324.3,16.1 L326.1,16.1 L327.0,17.1 L327.0,20.0 L326.1,21.1 L324.3,21.1 L323.0,22.7 L323.0,25.0 L324.3,26.6 L326.1,26.6 L327.4,25.0 L327.4,22.7 L326.1,21.1 M334.1,16.1 L330.0,16.1 L329.6,20.7 L332.8,20.3 L334.1,21.9 L334.1,25.0 L332.8,26.6 L331.0,26.6 L329.6,25.3" stroke="#fff" stroke-width="1" fill="none" stroke-linejoin="round"/>
<polyline points="516.7,465.6 515.6,420.0 515.0,392.0 515.0,240.0 524.5,110.0 526.2,92.3 528.5,86.5 531.3,84.2 537.8,79.0 542.7,76.6 546.7,75.5 567.3,71.9 595.6,69.0 633.5,66.2 677.0,64.7 688.0,64.3 739.7,66.6 786.2,70.6 832.8,77.6 840.0,80.5 844.4,83.2 847.1,89.0 849.7,100.4 851.8,118.0 854.4,140.0 861.0,240.0 860.0,332.0 860.0,400.0 859.5,452.0 857.2,465.6 854.8,488.5 851.6,489.3 832.8,484.8 805.9,484.3 766.3,481.5 731.4,480.0" stroke="#fff" stroke-width="1" fill="none"/>
<polyline points="731.4,480.0 645.7,480.5 589.0,481.8 549.0,483.4 532.5,484.4 520.0,489.0 516.7,465.6" stroke="#fff" stroke-width="1" fill="none"/>
<polyline points="523.0,120.0 525.0,114.0 528.0,111.3 538.0,109.0 546.7,108.5 595.4,105.5 776.3,105.5 806.0,107.0 832.8,109.8 845.3,112.4 848.5,114.5 850.0,118.0 851.0,123.0 852.6,140.0 859.4,240.0" stroke="#fff" stroke-width="1" fill="none"/>
<line x1="515.0" y1="332.1" x2="860.0" y2="332.1" stroke="#fff" stroke-width="1"/>
<polyline points="515.6,391.0 530.0,378.0 544.5,369.5 558.5,364.0 580.0,362.0 630.0,361.3 688.0,361.5 817.4,362.4 832.0,367.7 845.4,378.4 860.0,398.4" stroke="#fff" stroke-width="1" fill="none"/>
<polyline points="515.0,400.0 530.0,387.0 545.0,378.0 560.0,372.5 600.0,371.3 735.0,370.8 796.0,371.5 816.0,372.4 832.0,381.0 845.4,390.4 856.0,399.8 860.0,405.0" stroke="#fff" stroke-width="1" fill="none"/>
<polyline points="515.0,402.3 562.3,403.4 580.0,402.5 639.0,402.5 640.0,403.7 730.0,403.7 811.5,402.8 857.0,402.4" stroke="#fff" stroke-width="1" fill="none"/>
<polyline points="563.0,403.4 583.0,411.0 618.4,436.7 672.0,439.2 703.5,438.4 756.5,437.0 792.6,412.2 815.3,404.7 847.6,400.9 859.0,398.0" stroke="#fff" stroke-width="1" fill="none"/>
<polyline points="563.0,403.4 580.0,405.0 605.0,408.4 646.7,410.9 730.0,410.0 768.0,406.6 811.5,403.0" stroke="#fff" stroke-width="1" fill="none"/>
<polyline points="586.7,414.0 618.4,419.5 665.0,421.7 710.0,421.4 758.0,420.6 780.0,419.5 790.0,418.0" stroke="#fff" stroke-width="1" fill="none"/>
<polyline points="515.0,400.6 523.4,413.4 551.2,426.7 580.0,426.9 613.4,428.4 730.0,429.2 798.3,427.4 824.8,425.5 851.4,414.1 860.0,404.7" stroke="#fff" stroke-width="1" fill="none"/>
<circle cx="530.6" cy="409.0" r="4.5" stroke="#fff" stroke-width="1" fill="none"/>
<circle cx="545.0" cy="412.8" r="6.7" stroke="#fff" stroke-width="1" fill="none"/>
<circle cx="563.0" cy="415.6" r="6.9" stroke="#fff" stroke-width="1" fill="none"/>
<circle cx="581.0" cy="419.5" r="6.7" stroke="#fff" stroke-width="1" fill="none"/>
<circle cx="793.5" cy="419.8" r="6.6" stroke="#fff" stroke-width="1" fill="none"/>
<circle cx="811.5" cy="416.0" r="6.6" stroke="#fff" stroke-width="1" fill="none"/>
<circle cx="829.6" cy="413.2" r="6.6" stroke="#fff" stroke-width="1" fill="none"/>
<circle cx="844.7" cy="408.4" r="5.0" stroke="#fff" stroke-width="1" fill="none"/>
<polyline points="576.8,427.0 583.2,437.1 587.6,444.2 590.3,459.4 590.5,482.0" stroke="#fff" stroke-width="1" fill="none"/>
<polyline points="798.7,427.6 790.0,439.5 786.9,445.8 785.3,458.5 784.6,482.0" stroke="#fff" stroke-width="1" fill="none"/>
<polyline points="516.7,465.6 533.3,463.4 555.6,462.5 600.0,462.5 642.4,461.5 645.7,480.5" stroke="#fff" stroke-width="1" fill="none"/>
<polyline points="731.4,480.0 733.8,461.5 752.8,462.5 859.0,466.3" stroke="#fff" stroke-width="1" fill="none"/>
<rect x="657.2" y="455.5" width="60.2" height="21" stroke="#fff" stroke-width="1" fill="none"/>
<polyline points="528.9,444.2 538.7,444.0 551.0,445.6 567.0,450.0 582.3,460.7 541.4,459.8 528.9,447.8 528.9,444.2" stroke="#fff" stroke-width="1" fill="none"/>
<circle cx="543.6" cy="452.2" r="6.6" stroke="#fff" stroke-width="1" fill="none"/>
<polyline points="552.0,446.5 567.2,449.1 580.0,459.0" stroke="#fff" stroke-width="1" fill="none"/>
<polyline points="555.6,451.0 569.0,451.0" stroke="#fff" stroke-width="1" fill="none"/>
<polyline points="557.4,455.8 577.0,455.8" stroke="#fff" stroke-width="1" fill="none"/>
<polyline points="552.0,447.0 556.0,459.8" stroke="#fff" stroke-width="1" fill="none"/>
<polyline points="554.5,447.0 558.5,459.8" stroke="#fff" stroke-width="1" fill="none"/>
<polyline points="793.5,459.7 811.5,446.4 843.8,444.5 846.6,447.3 832.4,460.6 793.5,459.7" stroke="#fff" stroke-width="1" fill="none"/>
<circle cx="830.5" cy="453.0" r="6.6" stroke="#fff" stroke-width="1" fill="none"/>
<polyline points="800.0,455.0 820.0,455.0" stroke="#fff" stroke-width="1" fill="none"/>
<polyline points="805.0,451.0 821.0,451.0" stroke="#fff" stroke-width="1" fill="none"/>
<polyline points="818.0,447.0 815.0,460.0" stroke="#fff" stroke-width="1" fill="none"/>
<polyline points="822.0,447.0 819.0,460.0" stroke="#fff" stroke-width="1" fill="none"/>
<rect x="573.2" y="550.4" width="18.8" height="7.1" stroke="#fff" stroke-width="1" fill="none"/>
<line x1="578.6" y1="550.4" x2="578.6" y2="557.5" stroke="#fff" stroke-width="1"/>
<line x1="587.5" y1="550.4" x2="587.5" y2="557.5" stroke="#fff" stroke-width="1"/>
<polyline points="566.0,562.9 599.0,562.9 602.6,566.0 603.6,583.4 638.4,583.4" stroke="#fff" stroke-width="1" fill="none"/>
<polyline points="566.0,566.8 579.5,566.8" stroke="#fff" stroke-width="1" fill="none"/>
<line x1="579.5" y1="562.9" x2="579.5" y2="576.2" stroke="#fff" stroke-width="1"/>
<line x1="585.4" y1="562.9" x2="585.4" y2="576.2" stroke="#fff" stroke-width="1"/>
<polyline points="565.2,583.4 565.2,576.2 593.8,576.2 593.8,583.4" stroke="#fff" stroke-width="1" fill="none"/>
<polyline points="527.7,583.4 593.8,583.4" stroke="#fff" stroke-width="1" fill="none"/>
<polyline points="527.7,586.4 596.4,586.4 596.4,568.0 593.0,568.0 593.0,583.4" stroke="#fff" stroke-width="1" fill="none"/>
<polyline points="601.0,586.4 638.4,586.4" stroke="#fff" stroke-width="1" fill="none"/>
<polyline points="598.0,586.4 598.0,566.5 600.0,566.5 600.0,586.4" stroke="#fff" stroke-width="1" fill="none"/>
<path d="M680.3,17.1 L682.4,21.8 L684.5,17.1 M682.4,21.8 L682.4,26.4 M686.6,22.9 L690.9,22.9 M686.6,20.6 L690.9,20.6 M694.2,26.4 L695.9,26.4 L697.2,24.7 L697.2,18.8 L695.9,17.1 L694.2,17.1 L693.0,18.8 L693.0,24.7 L694.2,26.4" stroke="#fff" stroke-width="1" fill="none" stroke-linejoin="round"/>
<path d="M227.2,35.1 L227.2,30.0 L229.5,30.0 L230.2,30.6 L230.2,31.9 L229.5,32.5 L227.2,32.5 M228.7,32.5 L230.2,35.1 M231.8,30.6 L232.5,30.0 L234.0,30.0 L234.8,30.6 L234.8,31.9 L234.0,32.5 L232.9,32.5 M234.0,32.5 L234.8,33.2 L234.8,34.5 L234.0,35.1 L232.5,35.1 L231.8,34.5 M239.4,30.0 L236.6,30.0 L236.3,32.2 L238.5,32.0 L239.4,32.8 L239.4,34.3 L238.5,35.1 L237.2,35.1 L236.3,34.5 M241.8,35.1 L243.0,35.1 L243.9,34.1 L243.9,31.0 L243.0,30.0 L241.8,30.0 L240.9,31.0 L240.9,34.1 L241.8,35.1 M246.4,35.1 L247.6,35.1 L248.5,34.1 L248.5,31.0 L247.6,30.0 L246.4,30.0 L245.5,31.0 L245.5,34.1 L246.4,35.1" stroke="#0f0" stroke-width="1" fill="none" stroke-linejoin="round"/>
<path d="M158.3,62.9 L158.3,58.3 L160.7,58.3 L161.6,58.9 L161.6,60.0 L160.7,60.6 L158.3,60.6 M159.9,60.6 L161.6,62.9 M163.2,58.9 L164.0,58.3 L165.6,58.3 L166.4,58.9 L166.4,60.0 L165.6,60.6 L164.4,60.6 M165.6,60.6 L166.4,61.2 L166.4,62.3 L165.6,62.9 L164.0,62.9 L163.2,62.3 M169.0,60.5 L168.4,60.0 L168.4,58.8 L169.0,58.3 L170.3,58.3 L171.0,58.8 L171.0,60.0 L170.3,60.5 L169.0,60.5 L168.1,61.2 L168.1,62.2 L169.0,62.9 L170.3,62.9 L171.3,62.2 L171.3,61.2 L170.3,60.5 M173.9,62.9 L175.2,62.9 L176.2,62.0 L176.2,59.2 L175.2,58.3 L173.9,58.3 L172.9,59.2 L172.9,62.0 L173.9,62.9" stroke="#0f0" stroke-width="1" fill="none" stroke-linejoin="round"/>
<path d="M205.0,91.2 L205.0,86.8 L207.3,86.8 L208.1,87.3 L208.1,88.5 L207.3,89.0 L205.0,89.0 M206.5,89.0 L208.1,91.2 M209.6,87.3 L210.3,86.8 L211.9,86.8 L212.6,87.3 L212.6,88.5 L211.9,89.0 L210.7,89.0 M211.9,89.0 L212.6,89.5 L212.6,90.7 L211.9,91.2 L210.3,91.2 L209.6,90.7 M215.1,91.2 L216.3,91.2 L217.2,90.4 L217.2,87.6 L216.3,86.8 L215.1,86.8 L214.2,87.6 L214.2,90.4 L215.1,91.2 M219.7,91.2 L220.9,91.2 L221.8,90.4 L221.8,87.6 L220.9,86.8 L219.7,86.8 L218.7,87.6 L218.7,90.4 L219.7,91.2" stroke="#0f0" stroke-width="1" fill="none" stroke-linejoin="round"/>
<path d="M256.2,85.1 L256.2,80.1 L258.5,80.1 L259.2,80.7 L259.2,82.0 L258.5,82.6 L256.2,82.6 M257.7,82.6 L259.2,85.1 M260.8,80.7 L261.5,80.1 L263.0,80.1 L263.8,80.7 L263.8,82.0 L263.0,82.6 L261.9,82.6 M263.0,82.6 L263.8,83.2 L263.8,84.5 L263.0,85.1 L261.5,85.1 L260.8,84.5 M266.2,85.1 L267.5,85.1 L268.4,84.2 L268.4,81.0 L267.5,80.1 L266.2,80.1 L265.3,81.0 L265.3,84.2 L266.2,85.1 M270.8,85.1 L272.0,85.1 L272.9,84.2 L272.9,81.0 L272.0,80.1 L270.8,80.1 L269.9,81.0 L269.9,84.2 L270.8,85.1 M275.4,85.1 L276.6,85.1 L277.5,84.2 L277.5,81.0 L276.6,80.1 L275.4,80.1 L274.5,81.0 L274.5,84.2 L275.4,85.1" stroke="#0f0" stroke-width="1" fill="none" stroke-linejoin="round"/>
<path d="M178.7,90.4 L179.8,89.5 L179.8,94.1 M178.9,94.1 L180.1,94.1 M182.7,90.1 L183.4,89.5 L184.9,89.5 L185.6,90.1 L185.6,91.2 L182.7,94.1 L185.6,94.1 M187.9,91.7 L187.4,91.2 L187.4,90.0 L187.9,89.5 L189.1,89.5 L189.7,90.0 L189.7,91.2 L189.1,91.7 L187.9,91.7 L187.1,92.4 L187.1,93.4 L187.9,94.1 L189.1,94.1 L190.0,93.4 L190.0,92.4 L189.1,91.7 M191.8,94.1 L191.8,93.7 M195.5,94.1 L195.5,89.5 L193.3,92.4 L196.2,92.4" stroke="#0f0" stroke-width="1" fill="none" stroke-linejoin="round"/>
<path d="M151.5,116.3 L151.5,113.4 L155.1,115.2 M151.5,109.7 L151.5,110.8 L152.4,111.9 L154.6,111.9 L155.1,111.0 L155.1,109.9 L154.6,109.0 L153.7,109.0 L153.1,109.9 L153.1,111.0 L153.7,111.9 M155.1,107.2 L154.8,107.2 M151.5,105.7 L151.5,102.8 L155.1,104.6" stroke="#0f0" stroke-width="1" fill="none" stroke-linejoin="round"/>
<path d="M310.1,86.3 L309.5,85.5 L309.5,83.8 L310.1,82.9 L311.4,82.9 L314.7,86.3 L314.7,82.9 M310.1,81.2 L309.5,80.4 L309.5,78.7 L310.1,77.9 L311.4,77.9 L314.7,81.2 L314.7,77.9 M314.7,75.2 L314.7,73.8 L313.7,72.8 L310.5,72.8 L309.5,73.8 L309.5,75.2 L310.5,76.2 L313.7,76.2 L314.7,75.2" stroke="#0f0" stroke-width="1" fill="none" stroke-linejoin="round"/>
<path d="M322.4,241.5 L321.8,240.7 L321.8,239.1 L322.4,238.3 L323.6,238.3 L326.5,241.5 L326.5,238.3 M326.5,234.3 L321.8,234.3 L324.7,236.7 L324.7,233.5 M322.4,231.9 L321.8,231.1 L321.8,229.5 L322.4,228.7 L323.6,228.7 L326.5,231.9 L326.5,228.7 M326.5,226.1 L326.5,224.9 L325.6,223.9 L322.7,223.9 L321.8,224.9 L321.8,226.1 L322.7,227.1 L325.6,227.1 L326.5,226.1" stroke="#0f0" stroke-width="1" fill="none" stroke-linejoin="round"/>
<path d="M45.7,199.6 L45.3,198.6 L45.7,197.1 L46.6,196.6 L47.9,197.0 L50.3,201.0 L51.2,198.0 M46.4,194.9 L47.3,191.9 L52.0,195.4 M48.9,190.3 L48.3,188.9 L53.5,190.5 M53.2,191.4 L53.6,190.1 M49.8,186.0 L49.4,185.1 L49.9,183.6 L50.8,183.0 L52.1,183.4 L52.5,184.4 L52.2,185.5 M52.5,184.4 L53.4,183.8 L54.7,184.2 L55.1,185.2 L54.7,186.7 L53.8,187.3 M55.9,182.6 L55.5,182.4 M51.1,179.5 L52.1,176.4 L56.7,179.9" stroke="#0f0" stroke-width="1" fill="none" stroke-linejoin="round"/>
<path d="M75.8,224.8 L75.0,223.8 L79.0,223.8 M79.0,224.6 L79.0,223.4 M75.0,219.1 L75.0,220.1 L76.0,221.1 L78.4,221.1 L79.0,220.3 L79.0,219.3 L78.4,218.5 L77.4,218.5 L76.8,219.3 L76.8,220.3 L77.4,221.1 M79.0,215.1 L75.0,215.1 L77.5,217.1 L77.5,214.5 M79.0,212.4 L79.0,211.3 L78.2,210.5 L75.8,210.5 L75.0,211.3 L75.0,212.4 L75.8,213.2 L78.2,213.2 L79.0,212.4" stroke="#0f0" stroke-width="1" fill="none" stroke-linejoin="round"/>
<path d="M103.9,201.5 L103.9,197.2 L106.2,197.2 L106.9,197.7 L106.9,198.8 L106.2,199.3 L103.9,199.3 M105.4,199.3 L106.9,201.5 M111.5,197.2 L108.7,197.2 L108.5,199.1 L110.6,198.9 L111.5,199.6 L111.5,200.9 L110.6,201.5 L109.4,201.5 L108.5,201.0 M113.9,201.5 L115.2,201.5 L116.1,200.7 L116.1,198.0 L115.2,197.2 L113.9,197.2 L113.0,198.0 L113.0,200.7 L113.9,201.5 M118.5,201.5 L119.7,201.5 L120.6,200.7 L120.6,198.0 L119.7,197.2 L118.5,197.2 L117.6,198.0 L117.6,200.7 L118.5,201.5 M123.1,201.5 L124.3,201.5 L125.2,200.7 L125.2,198.0 L124.3,197.2 L123.1,197.2 L122.2,198.0 L122.2,200.7 L123.1,201.5" stroke="#0f0" stroke-width="1" fill="none" stroke-linejoin="round"/>
<path d="M93.9,231.1 L93.9,226.1 L96.0,226.1 L96.7,226.7 L96.7,228.0 L96.0,228.6 L93.9,228.6 M95.3,228.6 L96.7,231.1 M100.9,226.1 L98.3,226.1 L98.1,228.3 L100.1,228.1 L100.9,228.8 L100.9,230.3 L100.1,231.1 L98.9,231.1 L98.1,230.5 M103.2,231.1 L104.3,231.1 L105.1,230.2 L105.1,227.0 L104.3,226.1 L103.2,226.1 L102.3,227.0 L102.3,230.2 L103.2,231.1 M107.4,231.1 L108.5,231.1 L109.3,230.2 L109.3,227.0 L108.5,226.1 L107.4,226.1 L106.5,227.0 L106.5,230.2 L107.4,231.1 M111.6,231.1 L112.7,231.1 L113.5,230.2 L113.5,227.0 L112.7,226.1 L111.6,226.1 L110.7,227.0 L110.7,230.2 L111.6,231.1 M115.3,231.1 L115.3,230.7 M117.0,227.0 L118.1,226.1 L118.1,231.1 M117.3,231.1 L118.4,231.1" stroke="#0f0" stroke-width="1" fill="none" stroke-linejoin="round"/>
<path d="M42.3,266.5 L42.3,262.5 L44.6,262.5 L45.3,263.0 L45.3,264.0 L44.6,264.5 L42.3,264.5 M43.8,264.5 L45.3,266.5 M49.1,266.5 L49.1,262.5 L46.8,265.0 L49.9,265.0 M52.3,266.5 L53.5,266.5 L54.4,265.8 L54.4,263.2 L53.5,262.5 L52.3,262.5 L51.4,263.2 L51.4,265.8 L52.3,266.5 M56.8,266.5 L58.0,266.5 L59.0,265.8 L59.0,263.2 L58.0,262.5 L56.8,262.5 L55.9,263.2 L55.9,265.8 L56.8,266.5 M61.4,266.5 L62.6,266.5 L63.5,265.8 L63.5,263.2 L62.6,262.5 L61.4,262.5 L60.5,263.2 L60.5,265.8 L61.4,266.5" stroke="#0f0" stroke-width="1" fill="none" stroke-linejoin="round"/>
<path d="M118.5,318.9 L119.3,318.3 L120.9,318.3 L121.8,318.9 L121.8,320.0 L118.5,322.9 L121.8,322.9 M123.4,318.3 L126.7,318.3 L124.6,322.9 M128.3,318.9 L129.1,318.3 L130.7,318.3 L131.6,318.9 L131.6,320.0 L130.7,320.6 L129.5,320.6 M130.7,320.6 L131.6,321.2 L131.6,322.3 L130.7,322.9 L129.1,322.9 L128.3,322.3 M133.6,322.9 L133.6,322.5 M136.2,320.5 L135.6,320.0 L135.6,318.8 L136.2,318.3 L137.5,318.3 L138.2,318.8 L138.2,320.0 L137.5,320.5 L136.2,320.5 L135.2,321.2 L135.2,322.2 L136.2,322.9 L137.5,322.9 L138.5,322.2 L138.5,321.2 L137.5,320.5" stroke="#0f0" stroke-width="1" fill="none" stroke-linejoin="round"/>
<path d="M126.2,335.1 L127.0,334.5 L128.5,334.5 L129.3,335.1 L129.3,336.4 L128.5,337.0 L127.4,337.0 M128.5,337.0 L129.3,337.6 L129.3,338.9 L128.5,339.5 L127.0,339.5 L126.2,338.9 M130.9,334.5 L134.0,334.5 L132.0,339.5 M135.5,335.1 L136.3,334.5 L137.8,334.5 L138.6,335.1 L138.6,336.4 L137.8,337.0 L136.7,337.0 M137.8,337.0 L138.6,337.6 L138.6,338.9 L137.8,339.5 L136.3,339.5 L135.5,338.9 M140.5,339.5 L140.5,339.1 M143.0,336.9 L142.4,336.4 L142.4,335.0 L143.0,334.5 L144.3,334.5 L144.9,335.0 L144.9,336.4 L144.3,336.9 L143.0,336.9 L142.1,337.6 L142.1,338.8 L143.0,339.5 L144.3,339.5 L145.2,338.8 L145.2,337.6 L144.3,336.9" stroke="#0f0" stroke-width="1" fill="none" stroke-linejoin="round"/>
<path d="M32.5,341.8 L32.5,336.1 L34.6,336.1 L35.3,336.8 L35.3,338.2 L34.6,339.0 L32.5,339.0 M33.9,339.0 L35.3,341.8 M37.1,337.2 L38.2,336.1 L38.2,341.8 M37.3,341.8 L38.6,341.8 M41.9,338.8 L41.3,338.2 L41.3,336.7 L41.9,336.1 L43.0,336.1 L43.6,336.7 L43.6,338.2 L43.0,338.8 L41.9,338.8 L41.0,339.7 L41.0,340.9 L41.9,341.8 L43.0,341.8 L43.9,340.9 L43.9,339.7 L43.0,338.8 M48.2,338.2 L47.3,339.1 L46.2,339.1 L45.3,338.2 L45.3,337.0 L46.2,336.1 L47.3,336.1 L48.2,337.0 L48.2,339.7 L47.1,341.8 L46.0,341.8 M52.4,336.1 L49.8,336.1 L49.6,338.6 L51.6,338.4 L52.4,339.2 L52.4,340.9 L51.6,341.8 L50.5,341.8 L49.6,341.1 M54.2,341.8 L54.2,341.3 M56.0,337.2 L57.1,336.1 L57.1,341.8 M56.2,341.8 L57.4,341.8" stroke="#0f0" stroke-width="1" fill="none" stroke-linejoin="round"/>
<path d="M103.9,351.8 L103.9,347.2 L101.5,350.1 L104.7,350.1 M107.3,351.8 L108.5,351.8 L109.5,350.9 L109.5,348.1 L108.5,347.2 L107.3,347.2 L106.3,348.1 L106.3,350.9 L107.3,351.8" stroke="#0f0" stroke-width="1" fill="none" stroke-linejoin="round"/>
<path d="M80.7,370.4 L76.1,370.4 L79.0,372.9 L79.0,369.5 M77.8,364.5 L78.5,365.5 L78.5,366.9 L77.8,367.9 L76.8,367.9 L76.1,366.9 L76.1,365.5 L76.8,364.5 L79.0,364.5 L80.7,365.8 L80.7,367.0 M76.1,359.5 L76.1,362.6 L78.1,362.9 L77.9,360.5 L78.6,359.5 L80.0,359.5 L80.7,360.5 L80.7,361.8 L80.1,362.9" stroke="#0f0" stroke-width="1" fill="none" stroke-linejoin="round"/>
<path d="M87.3,368.5 L87.3,365.3 L90.7,367.3 M90.7,362.7 L90.7,361.5 L90.1,360.5 L87.9,360.5 L87.3,361.5 L87.3,362.7 L87.9,363.7 L90.1,363.7 L90.7,362.7" stroke="#0f0" stroke-width="1" fill="none" stroke-linejoin="round"/>
<path d="M87.7,391.5 L87.3,390.8 L87.3,389.2 L87.7,388.5 L88.6,388.5 L90.7,391.5 L90.7,388.5 M87.7,387.0 L87.3,386.2 L87.3,384.8 L87.7,384.0 L88.6,384.0 L90.7,387.0 L90.7,384.0 M90.7,381.6 L90.7,380.4 L90.1,379.5 L87.9,379.5 L87.3,380.4 L87.3,381.6 L87.9,382.5 L90.1,382.5 L90.7,381.6" stroke="#0f0" stroke-width="1" fill="none" stroke-linejoin="round"/>
<path d="M98.5,379.5 L99.2,379.0 L100.5,379.0 L101.2,379.5 L101.2,380.5 L98.5,382.9 L101.2,382.9 M103.3,382.9 L104.4,382.9 L105.2,382.2 L105.2,379.7 L104.4,379.0 L103.3,379.0 L102.5,379.7 L102.5,382.2 L103.3,382.9" stroke="#0f0" stroke-width="1" fill="none" stroke-linejoin="round"/>
<path d="M36.1,392.5 L36.1,388.5 L38.3,388.5 L39.0,389.0 L39.0,390.0 L38.3,390.5 L36.1,390.5 M37.5,390.5 L39.0,392.5 M40.4,389.0 L41.1,388.5 L42.6,388.5 L43.3,389.0 L43.3,390.0 L40.4,392.5 L43.3,392.5 M45.6,392.5 L46.7,392.5 L47.6,391.8 L47.6,389.2 L46.7,388.5 L45.6,388.5 L44.7,389.2 L44.7,391.8 L45.6,392.5 M49.9,392.5 L51.0,392.5 L51.9,391.8 L51.9,389.2 L51.0,388.5 L49.9,388.5 L49.0,389.2 L49.0,391.8 L49.9,392.5 M54.2,392.5 L55.3,392.5 L56.2,391.8 L56.2,389.2 L55.3,388.5 L54.2,388.5 L53.3,389.2 L53.3,391.8 L54.2,392.5" stroke="#0f0" stroke-width="1" fill="none" stroke-linejoin="round"/>
<path d="M87.3,408.5 L87.3,405.7 L90.7,407.4 M90.7,403.5 L90.7,402.3 L90.1,401.5 L87.9,401.5 L87.3,402.3 L87.3,403.5 L87.9,404.3 L90.1,404.3 L90.7,403.5" stroke="#0f0" stroke-width="1" fill="none" stroke-linejoin="round"/>
<path d="M76.7,420.5 L76.1,419.8 L76.1,418.4 L76.7,417.8 L77.8,417.8 L80.7,420.5 L80.7,417.8 M80.7,415.6 L80.7,414.4 L79.8,413.6 L77.0,413.6 L76.1,414.4 L76.1,415.6 L77.0,416.4 L79.8,416.4 L80.7,415.6 M76.1,409.5 L76.1,412.0 L78.1,412.2 L77.9,410.3 L78.6,409.5 L80.0,409.5 L80.7,410.3 L80.7,411.4 L80.1,412.2" stroke="#0f0" stroke-width="1" fill="none" stroke-linejoin="round"/>
<path d="M87.3,437.5 L87.3,434.3 L90.7,436.3 M90.7,431.7 L90.7,430.5 L90.1,429.5 L87.9,429.5 L87.3,430.5 L87.3,431.7 L87.9,432.7 L90.1,432.7 L90.7,431.7" stroke="#0f0" stroke-width="1" fill="none" stroke-linejoin="round"/>
<path d="M66.5,443.2 L66.5,446.3 L68.7,446.5 L68.5,444.2 L69.2,443.2 L70.8,443.2 L71.5,444.2 L71.5,445.5 L70.9,446.5 M66.5,441.6 L66.5,438.4 L71.5,440.4 M71.5,435.8 L71.5,434.5 L70.6,433.5 L67.4,433.5 L66.5,434.5 L66.5,435.8 L67.4,436.8 L70.6,436.8 L71.5,435.8" stroke="#0f0" stroke-width="1" fill="none" stroke-linejoin="round"/>
<path d="M33.5,462.9 L33.5,457.2 L35.9,457.2 L36.7,457.9 L36.7,459.3 L35.9,460.0 L33.5,460.0 M35.1,460.0 L36.7,462.9 M38.4,457.9 L39.2,457.2 L40.8,457.2 L41.6,457.9 L41.6,459.3 L40.8,460.0 L39.6,460.0 M40.8,460.0 L41.6,460.8 L41.6,462.2 L40.8,462.9 L39.2,462.9 L38.4,462.2 M44.2,459.9 L43.6,459.3 L43.6,457.8 L44.2,457.2 L45.5,457.2 L46.1,457.8 L46.1,459.3 L45.5,459.9 L44.2,459.9 L43.2,460.8 L43.2,462.0 L44.2,462.9 L45.5,462.9 L46.5,462.0 L46.5,460.8 L45.5,459.9 M51.3,457.2 L48.3,457.2 L48.1,459.7 L50.4,459.5 L51.3,460.3 L51.3,462.0 L50.4,462.9 L49.1,462.9 L48.1,462.2 M53.9,462.9 L55.2,462.9 L56.2,461.8 L56.2,458.3 L55.2,457.2 L53.9,457.2 L53.0,458.3 L53.0,461.8 L53.9,462.9" stroke="#0f0" stroke-width="1" fill="none" stroke-linejoin="round"/>
<path d="M139.5,415.2 L139.5,409.5 L142.0,409.5 L142.9,410.2 L142.9,411.6 L142.0,412.4 L139.5,412.4 M141.2,412.4 L142.9,415.2 M147.1,409.5 L145.8,409.5 L144.6,410.9 L144.6,414.3 L145.6,415.2 L146.9,415.2 L147.9,414.3 L147.9,412.9 L146.9,412.1 L145.6,412.1 L144.6,412.9 M149.6,410.2 L150.5,409.5 L152.2,409.5 L153.0,410.2 L153.0,411.6 L152.2,412.4 L150.9,412.4 M152.2,412.4 L153.0,413.1 L153.0,414.5 L152.2,415.2 L150.5,415.2 L149.6,414.5" stroke="#0f0" stroke-width="1" fill="none" stroke-linejoin="round"/>
<path d="M137.1,453.7 L136.5,453.3 L136.5,452.0 L137.1,451.5 L138.4,451.5 L139.0,452.0 L139.0,453.3 L138.4,453.7 L137.1,453.7 L136.2,454.4 L136.2,455.5 L137.1,456.2 L138.4,456.2 L139.3,455.5 L139.3,454.4 L138.4,453.7 M143.2,456.2 L143.2,451.5 L140.9,454.4 L144.0,454.4 M146.0,456.2 L146.0,455.8 M147.5,452.1 L148.3,451.5 L149.9,451.5 L150.7,452.1 L150.7,453.3 L147.5,456.2 L150.7,456.2 M152.6,451.5 L153.4,451.5 L153.4,452.1 L152.6,452.1 L152.6,451.5" stroke="#0f0" stroke-width="1" fill="none" stroke-linejoin="round"/>
<path d="M126.5,516.5 L126.5,511.5 L124.0,514.6 L127.4,514.6 M129.1,512.1 L129.9,511.5 L131.6,511.5 L132.4,512.1 L132.4,513.4 L131.6,514.0 L130.3,514.0 M131.6,514.0 L132.4,514.6 L132.4,515.9 L131.6,516.5 L129.9,516.5 L129.1,515.9 M137.5,511.5 L134.4,511.5 L134.1,513.7 L136.5,513.5 L137.5,514.2 L137.5,515.8 L136.5,516.5 L135.1,516.5 L134.1,515.9" stroke="#0f0" stroke-width="1" fill="none" stroke-linejoin="round"/>
<path d="M182.9,449.2 L182.9,450.4 L184.1,451.5 L186.8,451.5 L187.5,450.6 L187.5,449.4 L186.8,448.5 L185.7,448.5 L185.0,449.4 L185.0,450.6 L185.7,451.5 M187.5,444.8 L182.9,444.8 L185.8,447.0 L185.8,444.0 M187.5,441.6 L187.5,440.4 L186.6,439.5 L183.8,439.5 L182.9,440.4 L182.9,441.6 L183.8,442.5 L186.6,442.5 L187.5,441.6" stroke="#0f0" stroke-width="1" fill="none" stroke-linejoin="round"/>
<path d="M183.5,385.1 L182.9,384.4 L182.9,383.0 L183.5,382.3 L184.6,382.3 L185.2,383.0 L185.2,384.1 M185.2,383.0 L185.8,382.3 L186.9,382.3 L187.5,383.0 L187.5,384.4 L186.9,385.1 M187.5,380.1 L187.5,378.9 L186.6,378.1 L183.8,378.1 L182.9,378.9 L182.9,380.1 L183.8,380.9 L186.6,380.9 L187.5,380.1 M187.5,375.9 L187.5,374.7 L186.6,373.9 L183.8,373.9 L182.9,374.7 L182.9,375.9 L183.8,376.7 L186.6,376.7 L187.5,375.9" stroke="#0f0" stroke-width="1" fill="none" stroke-linejoin="round"/>
<path d="M170.8,402.0 L166.2,402.0 L169.1,404.0 L169.1,401.3 M166.8,399.9 L166.2,399.3 L166.2,397.9 L166.8,397.2 L167.9,397.2 L170.8,399.9 L170.8,397.2 M170.8,395.6 L170.4,395.6 M167.1,393.9 L166.2,392.9 L170.8,392.9 M170.8,393.7 L170.8,392.5" stroke="#0f0" stroke-width="1" fill="none" stroke-linejoin="round"/>
<path d="M174.8,401.5 L174.0,400.4 L178.5,400.4 M178.5,401.3 L178.5,400.1 M176.1,396.9 L175.7,397.4 L174.4,397.4 L174.0,396.9 L174.0,395.8 L174.4,395.2 L175.7,395.2 L176.1,395.8 L176.1,396.9 L176.8,397.7 L177.8,397.7 L178.5,396.9 L178.5,395.8 L177.8,394.9 L176.8,394.9 L176.1,395.8 M174.6,393.6 L174.0,392.9 L174.0,391.5 L174.6,390.8 L175.7,390.8 L178.5,393.6 L178.5,390.8 M178.5,389.1 L178.1,389.1 M174.6,387.7 L174.0,387.1 L174.0,385.7 L174.6,385.0 L175.7,385.0 L178.5,387.7 L178.5,385.0" stroke="#0f0" stroke-width="1" fill="none" stroke-linejoin="round"/>
<path d="M225.3,367.0 L226.3,366.1 L226.3,370.7 M225.5,370.7 L226.6,370.7 M229.7,370.7 L230.8,370.7 L231.6,369.8 L231.6,367.0 L230.8,366.1 L229.7,366.1 L229.0,367.0 L229.0,369.8 L229.7,370.7 M232.9,366.7 L233.6,366.1 L234.9,366.1 L235.5,366.7 L235.5,367.8 L234.9,368.4 L233.9,368.4 M234.9,368.4 L235.5,369.0 L235.5,370.1 L234.9,370.7 L233.6,370.7 L232.9,370.1 M237.7,370.7 L238.7,370.7 L239.5,369.8 L239.5,367.0 L238.7,366.1 L237.7,366.1 L236.9,367.0 L236.9,369.8 L237.7,370.7" stroke="#0f0" stroke-width="1" fill="none" stroke-linejoin="round"/>
<path d="M706.0,350.5 L706.0,349.2 L705.0,348.2 L701.7,348.2 L700.8,349.2 L700.8,350.5 L701.7,351.5 L705.0,351.5 L706.0,350.5 M706.0,346.1 L705.5,346.1 M701.4,344.4 L700.8,343.6 L700.8,341.9 L701.4,341.1 L702.7,341.1 L703.4,341.9 L703.4,343.2 M703.4,341.9 L704.0,341.1 L705.3,341.1 L706.0,341.9 L706.0,343.6 L705.3,344.4" stroke="#0f0" stroke-width="1" fill="none" stroke-linejoin="round"/>
<path d="M700.8,394.3 L700.8,395.8 L702.0,397.2 L705.2,397.2 L706.0,396.1 L706.0,394.5 L705.2,393.4 L703.9,393.4 L703.1,394.5 L703.1,396.1 L703.9,397.2 M702.7,387.6 L703.5,388.8 L703.5,390.3 L702.7,391.5 L701.5,391.5 L700.8,390.3 L700.8,388.8 L701.5,387.6 L704.0,387.6 L706.0,389.1 L706.0,390.5 M706.0,385.2 L705.5,385.2 M702.7,379.5 L703.5,380.6 L703.5,382.2 L702.7,383.3 L701.5,383.3 L700.8,382.2 L700.8,380.6 L701.5,379.5 L704.0,379.5 L706.0,380.9 L706.0,382.4" stroke="#0f0" stroke-width="1" fill="none" stroke-linejoin="round"/>
<path d="M715.5,351.3 L714.5,350.7 L719.8,350.7 M719.8,351.2 L719.8,350.5" stroke="#0f0" stroke-width="1" fill="none" stroke-linejoin="round"/>
<path d="M714.5,394.3 L714.5,395.8 L715.8,397.2 L719.0,397.2 L719.8,396.1 L719.8,394.5 L719.0,393.4 L717.7,393.4 L716.9,394.5 L716.9,396.1 L717.7,397.2 M716.5,387.6 L717.3,388.8 L717.3,390.3 L716.5,391.5 L715.3,391.5 L714.5,390.3 L714.5,388.8 L715.3,387.6 L717.8,387.6 L719.8,389.1 L719.8,390.5 M719.8,385.2 L719.3,385.2 M717.0,382.2 L716.5,382.9 L715.1,382.9 L714.5,382.2 L714.5,380.6 L715.1,379.9 L716.5,379.9 L717.0,380.6 L717.0,382.2 L717.8,383.3 L719.0,383.3 L719.8,382.2 L719.8,380.6 L719.0,379.5 L717.8,379.5 L717.0,380.6" stroke="#0f0" stroke-width="1" fill="none" stroke-linejoin="round"/>
<path d="M729.0,351.5 L728.4,350.5 L728.4,348.5 L729.0,347.5 L730.3,347.5 L733.6,351.5 L733.6,347.5 M733.6,345.0 L733.1,345.0 M729.0,343.0 L728.4,342.0 L728.4,340.0 L729.0,339.0 L730.3,339.0 L731.0,340.0 L731.0,341.5 M731.0,340.0 L731.6,339.0 L732.9,339.0 L733.6,340.0 L733.6,342.0 L732.9,343.0" stroke="#0f0" stroke-width="1" fill="none" stroke-linejoin="round"/>
<path d="M728.4,394.3 L728.4,395.8 L729.7,397.2 L732.8,397.2 L733.6,396.1 L733.6,394.5 L732.8,393.4 L731.5,393.4 L730.7,394.5 L730.7,396.1 L731.5,397.2 M730.3,387.6 L731.1,388.8 L731.1,390.3 L730.3,391.5 L729.1,391.5 L728.4,390.3 L728.4,388.8 L729.1,387.6 L731.6,387.6 L733.6,389.1 L733.6,390.5 M733.6,385.2 L733.1,385.2 M728.4,379.5 L728.4,383.0 L730.6,383.3 L730.4,380.6 L731.2,379.5 L732.8,379.5 L733.6,380.6 L733.6,382.2 L732.9,383.3" stroke="#0f0" stroke-width="1" fill="none" stroke-linejoin="round"/>
<path d="M747.4,348.1 L742.1,348.1 L745.4,351.5 L745.4,347.0" stroke="#0f0" stroke-width="1" fill="none" stroke-linejoin="round"/>
<path d="M742.1,394.3 L742.1,395.8 L743.5,397.2 L746.6,397.2 L747.4,396.1 L747.4,394.5 L746.6,393.4 L745.3,393.4 L744.5,394.5 L744.5,396.1 L745.3,397.2 M744.1,387.6 L744.9,388.8 L744.9,390.3 L744.1,391.5 L742.9,391.5 L742.1,390.3 L742.1,388.8 L742.9,387.6 L745.4,387.6 L747.4,389.1 L747.4,390.5 M747.4,385.2 L746.9,385.2 M742.8,383.3 L742.1,382.4 L742.1,380.5 L742.8,379.5 L744.1,379.5 L747.4,383.3 L747.4,379.5" stroke="#0f0" stroke-width="1" fill="none" stroke-linejoin="round"/>
<path d="M756.0,348.7 L756.0,350.1 L757.2,351.5 L760.4,351.5 L761.2,350.4 L761.2,348.9 L760.4,347.8 L759.1,347.8 L758.3,348.9 L758.3,350.4 L759.1,351.5 M761.2,345.5 L760.7,345.5 M756.6,343.7 L756.0,342.8 L756.0,340.9 L756.6,340.0 L757.9,340.0 L758.6,340.9 L758.6,342.3 M758.6,340.9 L759.2,340.0 L760.5,340.0 L761.2,340.9 L761.2,342.8 L760.5,343.7" stroke="#0f0" stroke-width="1" fill="none" stroke-linejoin="round"/>
<path d="M756.0,394.3 L756.0,395.8 L757.2,397.2 L760.4,397.2 L761.2,396.1 L761.2,394.5 L760.4,393.4 L759.1,393.4 L758.3,394.5 L758.3,396.1 L759.1,397.2 M758.4,390.3 L757.9,391.1 L756.5,391.1 L756.0,390.3 L756.0,388.8 L756.5,388.0 L757.9,388.0 L758.4,388.8 L758.4,390.3 L759.2,391.5 L760.4,391.5 L761.2,390.3 L761.2,388.8 L760.4,387.6 L759.2,387.6 L758.4,388.8 M761.2,385.2 L760.7,385.2 M756.0,383.3 L756.0,379.5 L761.2,381.9" stroke="#0f0" stroke-width="1" fill="none" stroke-linejoin="round"/>
<path d="M771.7,346.9 L772.5,348.2 L772.5,349.9 L771.7,351.2 L770.5,351.2 L769.8,349.9 L769.8,348.2 L770.5,346.9 L773.0,346.9 L775.0,348.5 L775.0,350.1" stroke="#0f0" stroke-width="1" fill="none" stroke-linejoin="round"/>
<path d="M769.8,395.1 L769.8,396.5 L771.0,397.9 L774.2,397.9 L775.0,396.8 L775.0,395.3 L774.2,394.1 L772.9,394.1 L772.1,395.3 L772.1,396.8 L772.9,397.9 M772.2,391.1 L771.7,391.9 L770.3,391.9 L769.8,391.1 L769.8,389.6 L770.3,388.9 L771.7,388.9 L772.2,389.6 L772.2,391.1 L773.0,392.3 L774.2,392.3 L775.0,391.1 L775.0,389.6 L774.2,388.5 L773.0,388.5 L772.2,389.6 M775.0,386.1 L774.5,386.1 M770.4,384.3 L769.8,383.3 L769.8,381.4 L770.4,380.5 L771.7,380.5 L775.0,384.3 L775.0,380.5" stroke="#0f0" stroke-width="1" fill="none" stroke-linejoin="round"/>
<path d="M784.5,350.8 L783.5,349.6 L788.8,349.6 M788.8,350.6 L788.8,349.2 M784.2,346.3 L783.5,345.5 L783.5,343.9 L784.2,343.1 L785.5,343.1 L788.8,346.3 L788.8,343.1 M788.8,341.1 L788.3,341.1 M784.2,339.4 L783.5,338.6 L783.5,337.0 L784.2,336.2 L785.5,336.2 L786.1,337.0 L786.1,338.2 M786.1,337.0 L786.8,336.2 L788.1,336.2 L788.8,337.0 L788.8,338.6 L788.1,339.4" stroke="#0f0" stroke-width="1" fill="none" stroke-linejoin="round"/>
<path d="M783.5,395.1 L783.5,396.5 L784.8,397.9 L788.0,397.9 L788.8,396.8 L788.8,395.3 L788.0,394.1 L786.7,394.1 L785.9,395.3 L785.9,396.8 L786.7,397.9 M783.5,392.3 L783.5,388.5 L788.8,390.8 M788.8,386.1 L788.3,386.1 M783.5,380.5 L783.5,384.0 L785.8,384.3 L785.6,381.6 L786.4,380.5 L788.0,380.5 L788.8,381.6 L788.8,383.1 L788.1,384.3" stroke="#0f0" stroke-width="1" fill="none" stroke-linejoin="round"/>
<path d="M798.3,350.8 L797.4,349.5 L802.6,349.5 M802.6,350.5 L802.6,349.1 M797.4,343.7 L797.4,345.0 L798.7,346.2 L801.8,346.2 L802.6,345.2 L802.6,343.9 L801.8,342.9 L800.5,342.9 L799.7,343.9 L799.7,345.2 L800.5,346.2" stroke="#0f0" stroke-width="1" fill="none" stroke-linejoin="round"/>
<path d="M797.4,395.1 L797.4,396.5 L798.7,397.9 L801.8,397.9 L802.6,396.8 L802.6,395.3 L801.8,394.1 L800.5,394.1 L799.7,395.3 L799.7,396.8 L800.5,397.9 M797.4,389.4 L797.4,390.8 L798.7,392.3 L801.8,392.3 L802.6,391.1 L802.6,389.6 L801.8,388.5 L800.5,388.5 L799.7,389.6 L799.7,391.1 L800.5,392.3 M802.6,386.1 L802.1,386.1 M799.3,380.5 L800.1,381.6 L800.1,383.1 L799.3,384.3 L798.1,384.3 L797.4,383.1 L797.4,381.6 L798.1,380.5 L800.6,380.5 L802.6,381.9 L802.6,383.3" stroke="#0f0" stroke-width="1" fill="none" stroke-linejoin="round"/>
<path d="M811.8,351.2 L811.1,350.5 L811.1,349.2 L811.8,348.5 L813.1,348.5 L816.4,351.2 L816.4,348.5 M812.1,346.9 L811.1,345.9 L816.4,345.9 M816.4,346.7 L816.4,345.5 M816.4,342.9 L815.9,342.9 M812.1,341.2 L811.1,340.2 L816.4,340.2 M816.4,341.0 L816.4,339.9" stroke="#0f0" stroke-width="1" fill="none" stroke-linejoin="round"/>
<path d="M811.1,395.7 L811.1,397.1 L812.5,398.5 L815.6,398.5 L816.4,397.4 L816.4,395.9 L815.6,394.8 L814.3,394.8 L813.5,395.9 L813.5,397.4 L814.3,398.5 M811.1,393.0 L811.1,389.3 L816.4,391.6 M816.4,387.0 L815.9,387.0 M811.8,385.2 L811.1,384.3 L811.1,382.4 L811.8,381.5 L813.1,381.5 L816.4,385.2 L816.4,381.5" stroke="#0f0" stroke-width="1" fill="none" stroke-linejoin="round"/>
<path d="M830.2,348.7 L825.0,348.7 L828.2,351.2 L828.2,347.9 M827.4,345.2 L826.9,345.9 L825.5,345.9 L825.0,345.2 L825.0,343.9 L825.5,343.2 L826.9,343.2 L827.4,343.9 L827.4,345.2 L828.2,346.2 L829.4,346.2 L830.2,345.2 L830.2,343.9 L829.4,342.9 L828.2,342.9 L827.4,343.9" stroke="#0f0" stroke-width="1" fill="none" stroke-linejoin="round"/>
<path d="M825.0,403.5 L825.0,399.8 L830.2,402.1 M830.2,396.9 L830.2,395.4 L829.2,394.3 L825.9,394.3 L825.0,395.4 L825.0,396.9 L825.9,398.0 L829.2,398.0 L830.2,396.9 M830.2,392.0 L829.7,392.0 M825.0,390.2 L825.0,386.5 L830.2,388.8" stroke="#0f0" stroke-width="1" fill="none" stroke-linejoin="round"/>
<path d="M839.7,350.9 L838.8,349.8 L844.0,349.8 M844.0,350.6 L844.0,349.5 M839.7,346.7 L838.8,345.6 L844.0,345.6 M844.0,346.5 L844.0,345.3 M839.7,342.5 L838.8,341.5 L844.0,341.5 M844.0,342.3 L844.0,341.1 M844.0,338.4 L843.5,338.4 M838.8,334.2 L838.8,336.8 L841.0,337.0 L840.8,335.0 L841.6,334.2 L843.2,334.2 L844.0,335.0 L844.0,336.1 L843.3,337.0" stroke="#0f0" stroke-width="1" fill="none" stroke-linejoin="round"/>
<path d="M838.8,402.7 L838.8,403.6 L840.0,404.5 L843.2,404.5 L844.0,403.8 L844.0,402.8 L843.2,402.1 L841.9,402.1 L841.1,402.8 L841.1,403.8 L841.9,404.5 M838.8,400.9 L838.8,398.6 L844.0,400.0 M844.0,397.1 L843.5,397.1 M839.4,395.9 L838.8,395.3 L838.8,394.1 L839.4,393.5 L840.7,393.5 L841.4,394.1 L841.4,395.0 M841.4,394.1 L842.0,393.5 L843.3,393.5 L844.0,394.1 L844.0,395.3 L843.3,395.9" stroke="#0f0" stroke-width="1" fill="none" stroke-linejoin="round"/>
<path d="M488.5,52.0 L491.6,47.6 L493.5,48.9 L493.7,49.9 L493.0,51.0 L491.9,51.1 L490.0,49.8 M491.3,50.7 L491.0,53.8 M495.1,51.3 L496.7,51.1 L493.6,55.5 M492.8,55.0 L493.9,55.8 M501.7,54.7 L499.4,53.0 L497.8,54.8 L499.7,55.9 L500.0,57.1 L499.1,58.4 L497.9,58.6 L496.9,57.9 L496.5,56.8 M500.7,60.5 L501.7,61.2 L503.0,60.9 L504.9,58.2 L504.8,56.8 L503.8,56.1 L502.4,56.4 L500.5,59.1 L500.7,60.5" stroke="#0f0" stroke-width="1" fill="none" stroke-linejoin="round"/>
<path d="M526.6,80.5 L525.8,79.5 L529.9,79.5 M529.9,80.3 L529.9,79.2 M526.6,76.6 L525.8,75.6 L529.9,75.6 M529.9,76.4 L529.9,75.2 M525.8,71.0 L525.8,72.0 L526.8,73.0 L529.3,73.0 L529.9,72.2 L529.9,71.1 L529.3,70.4 L528.3,70.4 L527.6,71.1 L527.6,72.2 L528.3,73.0 M529.9,68.7 L529.5,68.7 M527.3,64.8 L528.0,65.6 L528.0,66.6 L527.3,67.4 L526.4,67.4 L525.8,66.6 L525.8,65.6 L526.4,64.8 L528.4,64.8 L529.9,65.8 L529.9,66.8" stroke="#0f0" stroke-width="1" fill="none" stroke-linejoin="round"/>
<path d="M538.0,76.7 L537.1,75.9 L541.8,75.9 M541.8,76.6 L541.8,75.7 M541.8,73.2 L541.8,72.3 L540.9,71.7 L538.0,71.7 L537.1,72.3 L537.1,73.2 L538.0,73.8 L540.9,73.8 L541.8,73.2 M537.7,70.6 L537.1,70.0 L537.1,69.0 L537.7,68.4 L538.9,68.4 L539.5,69.0 L539.5,69.8 M539.5,69.0 L540.0,68.4 L541.2,68.4 L541.8,69.0 L541.8,70.0 L541.2,70.6 M541.8,67.1 L541.4,67.1 M538.9,63.9 L539.6,64.5 L539.6,65.4 L538.9,66.0 L537.8,66.0 L537.1,65.4 L537.1,64.5 L537.8,63.9 L540.0,63.9 L541.8,64.7 L541.8,65.5" stroke="#0f0" stroke-width="1" fill="none" stroke-linejoin="round"/>
<path d="M552.0,73.3 L551.6,73.9 L550.3,73.9 L549.8,73.3 L549.8,72.2 L550.3,71.6 L551.6,71.6 L552.0,72.2 L552.0,73.3 L552.7,74.2 L553.8,74.2 L554.5,73.3 L554.5,72.2 L553.8,71.3 L552.7,71.3 L552.0,72.2 M549.8,69.9 L549.8,67.1 L554.5,68.8 M554.5,65.3 L554.1,65.3 M550.4,63.9 L549.8,63.1 L549.8,61.7 L550.4,61.0 L551.6,61.0 L552.1,61.7 L552.1,62.8 M552.1,61.7 L552.7,61.0 L553.9,61.0 L554.5,61.7 L554.5,63.1 L553.9,63.9" stroke="#0f0" stroke-width="1" fill="none" stroke-linejoin="round"/>
<path d="M563.5,75.2 L563.5,71.9 L568.0,74.0 M564.1,70.3 L563.5,69.4 L563.5,67.8 L564.1,67.0 L565.2,67.0 L565.8,67.8 L565.8,69.0 M565.8,67.8 L566.3,67.0 L567.4,67.0 L568.0,67.8 L568.0,69.4 L567.4,70.3 M568.0,64.9 L567.6,64.9 M563.5,60.0 L563.5,63.0 L565.5,63.3 L565.3,61.0 L566.0,60.0 L567.3,60.0 L568.0,61.0 L568.0,62.3 L567.4,63.3" stroke="#0f0" stroke-width="1" fill="none" stroke-linejoin="round"/>
<path d="M582.9,69.4 L578.2,69.4 L581.1,70.5 L581.1,69.0 M579.1,68.0 L578.2,67.5 L582.9,67.5 M582.9,67.9 L582.9,67.3" stroke="#0f0" stroke-width="1" fill="none" stroke-linejoin="round"/>
<path d="M592.9,72.3 L592.3,71.7 L592.3,70.5 L592.9,69.9 L594.1,69.9 L594.6,70.5 L594.6,71.4 M594.6,70.5 L595.2,69.9 L596.4,69.9 L597.0,70.5 L597.0,71.7 L596.4,72.3 M597.0,67.9 L597.0,66.9 L596.1,66.2 L593.2,66.2 L592.3,66.9 L592.3,67.9 L593.2,68.6 L596.1,68.6 L597.0,67.9 M597.0,64.7 L596.6,64.7 M593.2,63.1 L592.3,62.2 L597.0,62.2 M597.0,63.0 L597.0,61.9" stroke="#0f0" stroke-width="1" fill="none" stroke-linejoin="round"/>
<path d="M606.1,72.3 L605.5,71.6 L605.5,70.2 L606.1,69.4 L607.4,69.4 L610.5,72.3 L610.5,69.4 M610.5,67.2 L610.5,66.0 L609.6,65.2 L606.4,65.2 L605.5,66.0 L605.5,67.2 L606.4,68.0 L609.6,68.0 L610.5,67.2 M610.5,63.4 L610.1,63.4 M607.4,59.1 L608.1,60.0 L608.1,61.1 L607.4,62.0 L606.2,62.0 L605.5,61.1 L605.5,60.0 L606.2,59.1 L608.6,59.1 L610.5,60.2 L610.5,61.2" stroke="#0f0" stroke-width="1" fill="none" stroke-linejoin="round"/>
<path d="M621.6,71.0 L620.7,70.0 L625.5,70.0 M625.5,70.8 L625.5,69.6 M621.3,67.1 L620.7,66.4 L620.7,65.0 L621.3,64.3 L622.5,64.3 L623.1,65.0 L623.1,66.0 M623.1,65.0 L623.7,64.3 L624.9,64.3 L625.5,65.0 L625.5,66.4 L624.9,67.1 M625.5,62.5 L625.1,62.5 M621.3,61.1 L620.7,60.3 L620.7,58.9 L621.3,58.2 L622.5,58.2 L623.1,58.9 L623.1,60.0 M623.1,58.9 L623.7,58.2 L624.9,58.2 L625.5,58.9 L625.5,60.3 L624.9,61.1" stroke="#0f0" stroke-width="1" fill="none" stroke-linejoin="round"/>
<path d="M634.0,57.2 L634.0,54.2 L639.0,56.1 M639.0,52.3 L638.6,52.3 M634.0,47.8 L634.0,50.6 L636.2,50.8 L636.0,48.7 L636.8,47.8 L638.2,47.8 L639.0,48.7 L639.0,49.9 L638.4,50.8" stroke="#0f0" stroke-width="1" fill="none" stroke-linejoin="round"/>
<path d="M647.8,57.2 L647.2,56.4 L647.2,54.9 L647.8,54.2 L649.0,54.2 L649.6,54.9 L649.6,56.1 M649.6,54.9 L650.2,54.2 L651.4,54.2 L652.0,54.9 L652.0,56.4 L651.4,57.2 M652.0,52.3 L651.6,52.3 M647.8,50.8 L647.2,50.1 L647.2,48.6 L647.8,47.8 L649.0,47.8 L649.6,48.6 L649.6,49.7 M649.6,48.6 L650.2,47.8 L651.4,47.8 L652.0,48.6 L652.0,50.1 L651.4,50.8" stroke="#0f0" stroke-width="1" fill="none" stroke-linejoin="round"/>
<path d="M665.5,57.2 L665.5,56.0 L664.6,55.1 L661.4,55.1 L660.5,56.0 L660.5,57.2 L661.4,58.1 L664.6,58.1 L665.5,57.2 M665.5,53.2 L665.1,53.2 M662.9,50.8 L662.4,51.4 L661.0,51.4 L660.5,50.8 L660.5,49.6 L661.0,49.0 L662.4,49.0 L662.9,49.6 L662.9,50.8 L663.6,51.7 L664.8,51.7 L665.5,50.8 L665.5,49.6 L664.8,48.7 L663.6,48.7 L662.9,49.6" stroke="#0f0" stroke-width="1" fill="none" stroke-linejoin="round"/>
<path d="M507.6,86.4 L508.7,85.5 L508.7,90.1 M507.8,90.1 L509.1,90.1 M511.7,86.1 L512.4,85.5 L513.9,85.5 L514.7,86.1 L514.7,87.2 L513.9,87.8 L512.8,87.8 M513.9,87.8 L514.7,88.4 L514.7,89.5 L513.9,90.1 L512.4,90.1 L511.7,89.5 M519.2,87.2 L518.3,87.9 L517.1,87.9 L516.2,87.2 L516.2,86.2 L517.1,85.5 L518.3,85.5 L519.2,86.2 L519.2,88.4 L518.0,90.1 L516.9,90.1 M521.0,90.1 L521.0,89.7 M525.5,85.5 L522.7,85.5 L522.5,87.5 L524.6,87.3 L525.5,88.0 L525.5,89.4 L524.6,90.1 L523.4,90.1 L522.5,89.5" stroke="#0f0" stroke-width="1" fill="none" stroke-linejoin="round"/>
<path d="M509.9,100.4 L511.0,99.5 L511.0,104.5 M510.1,104.5 L511.3,104.5 M513.9,100.1 L514.6,99.5 L516.1,99.5 L516.8,100.1 L516.8,101.4 L513.9,104.5 L516.8,104.5 M520.5,99.5 L519.4,99.5 L518.3,100.8 L518.3,103.8 L519.2,104.5 L520.3,104.5 L521.2,103.8 L521.2,102.5 L520.3,101.8 L519.2,101.8 L518.3,102.5" stroke="#0f0" stroke-width="1" fill="none" stroke-linejoin="round"/>
<path d="M507.3,115.4 L508.3,114.5 L508.3,119.5 M507.5,119.5 L508.6,119.5 M511.1,115.4 L512.1,114.5 L512.1,119.5 M511.3,119.5 L512.4,119.5 M514.6,115.1 L515.2,114.5 L516.5,114.5 L517.1,115.1 L517.1,116.4 L516.5,117.0 L515.5,117.0 M516.5,117.0 L517.1,117.6 L517.1,118.9 L516.5,119.5 L515.2,119.5 L514.6,118.9 M518.7,119.5 L518.7,119.1 M521.9,114.5 L520.9,114.5 L520.0,115.8 L520.0,118.8 L520.7,119.5 L521.7,119.5 L522.5,118.8 L522.5,117.5 L521.7,116.8 L520.7,116.8 L520.0,117.5" stroke="#0f0" stroke-width="1" fill="none" stroke-linejoin="round"/>
<path d="M506.8,128.1 L507.7,127.2 L507.7,132.0 M507.0,132.0 L508.0,132.0 M510.9,132.0 L511.9,132.0 L512.6,131.1 L512.6,128.1 L511.9,127.2 L510.9,127.2 L510.2,128.1 L510.2,131.1 L510.9,132.0 M513.8,127.8 L514.5,127.2 L515.7,127.2 L516.3,127.8 L516.3,129.0 L513.8,132.0 L516.3,132.0 M517.8,132.0 L517.8,131.6 M519.1,127.8 L519.7,127.2 L520.9,127.2 L521.5,127.8 L521.5,129.0 L520.9,129.6 L520.0,129.6 M520.9,129.6 L521.5,130.2 L521.5,131.4 L520.9,132.0 L519.7,132.0 L519.1,131.4" stroke="#0f0" stroke-width="1" fill="none" stroke-linejoin="round"/>
<path d="M509.3,143.2 L508.5,143.9 L507.3,143.9 L506.5,143.2 L506.5,142.2 L507.3,141.5 L508.5,141.5 L509.3,142.2 L509.3,144.3 L508.3,146.0 L507.2,146.0 M510.7,142.1 L511.4,141.5 L512.8,141.5 L513.5,142.1 L513.5,143.2 L510.7,146.0 L513.5,146.0 M515.3,146.0 L515.3,145.6 M517.5,143.6 L517.0,143.2 L517.0,141.9 L517.5,141.5 L518.7,141.5 L519.2,141.9 L519.2,143.2 L518.7,143.6 L517.5,143.6 L516.7,144.3 L516.7,145.3 L517.5,146.0 L518.7,146.0 L519.5,145.3 L519.5,144.3 L518.7,143.6" stroke="#0f0" stroke-width="1" fill="none" stroke-linejoin="round"/>
<path d="M507.7,157.3 L507.2,156.8 L507.2,155.5 L507.7,155.0 L508.7,155.0 L509.2,155.5 L509.2,156.8 L508.7,157.3 L507.7,157.3 L507.0,158.0 L507.0,159.1 L507.7,159.8 L508.7,159.8 L509.5,159.1 L509.5,158.0 L508.7,157.3 M510.7,155.6 L511.4,155.0 L512.6,155.0 L513.2,155.6 L513.2,156.8 L512.6,157.4 L511.7,157.4 M512.6,157.4 L513.2,158.0 L513.2,159.2 L512.6,159.8 L511.4,159.8 L510.7,159.2 M514.8,159.8 L514.8,159.4 M516.3,155.9 L517.3,155.0 L517.3,159.8 M516.5,159.8 L517.6,159.8" stroke="#0f0" stroke-width="1" fill="none" stroke-linejoin="round"/>
<path d="M504.5,169.0 L507.5,169.0 L505.6,174.0 M512.1,169.0 L509.3,169.0 L509.0,171.2 L511.2,171.0 L512.1,171.8 L512.1,173.2 L511.2,174.0 L509.9,174.0 L509.0,173.4 M514.0,174.0 L514.0,173.6 M518.5,169.0 L515.7,169.0 L515.5,171.2 L517.6,171.0 L518.5,171.8 L518.5,173.2 L517.6,174.0 L516.4,174.0 L515.5,173.4" stroke="#0f0" stroke-width="1" fill="none" stroke-linejoin="round"/>
<path d="M506.6,182.7 L505.6,182.7 L504.5,183.9 L504.5,186.8 L505.3,187.5 L506.5,187.5 L507.3,186.8 L507.3,185.6 L506.5,184.9 L505.3,184.9 L504.5,185.6 M509.6,185.0 L509.0,184.5 L509.0,183.2 L509.6,182.7 L510.7,182.7 L511.2,183.2 L511.2,184.5 L510.7,185.0 L509.6,185.0 L508.7,185.7 L508.7,186.8 L509.6,187.5 L510.7,187.5 L511.5,186.8 L511.5,185.7 L510.7,185.0 M513.3,187.5 L513.3,187.1 M514.7,182.7 L517.5,182.7 L515.7,187.5" stroke="#0f0" stroke-width="1" fill="none" stroke-linejoin="round"/>
<path d="M505.8,196.7 L504.6,196.7 L503.5,197.9 L503.5,200.8 L504.4,201.5 L505.6,201.5 L506.5,200.8 L506.5,199.6 L505.6,198.9 L504.4,198.9 L503.5,199.6 M508.0,197.3 L508.8,196.7 L510.3,196.7 L511.1,197.3 L511.1,198.5 L508.0,201.5 L511.1,201.5 M513.0,201.5 L513.0,201.1 M517.5,196.7 L514.7,196.7 L514.5,198.8 L516.6,198.6 L517.5,199.3 L517.5,200.8 L516.6,201.5 L515.4,201.5 L514.5,200.9" stroke="#0f0" stroke-width="1" fill="none" stroke-linejoin="round"/>
<path d="M506.3,210.5 L503.7,210.5 L503.5,212.6 L505.5,212.4 L506.3,213.1 L506.3,214.6 L505.5,215.3 L504.3,215.3 L503.5,214.7 M507.7,210.5 L510.5,210.5 L508.8,215.3 M512.3,215.3 L512.3,214.9 M516.5,212.3 L515.7,213.0 L514.5,213.0 L513.7,212.3 L513.7,211.2 L514.5,210.5 L515.7,210.5 L516.5,211.2 L516.5,213.5 L515.4,215.3 L514.4,215.3" stroke="#0f0" stroke-width="1" fill="none" stroke-linejoin="round"/>
<path d="M506.3,224.5 L503.7,224.5 L503.5,226.6 L505.5,226.4 L506.3,227.1 L506.3,228.6 L505.5,229.3 L504.3,229.3 L503.5,228.7 M509.8,229.3 L509.8,224.5 L507.7,227.5 L510.5,227.5 M512.3,229.3 L512.3,228.9 M514.0,225.4 L515.1,224.5 L515.1,229.3 M514.3,229.3 L515.4,229.3" stroke="#0f0" stroke-width="1" fill="none" stroke-linejoin="round"/>
<path d="M506.1,237.8 L503.4,237.8 L503.2,239.8 L505.2,239.6 L506.1,240.3 L506.1,241.6 L505.2,242.3 L504.1,242.3 L503.2,241.7 M507.9,238.6 L509.0,237.8 L509.0,242.3 M508.2,242.3 L509.4,242.3 M512.3,242.3 L512.3,241.9 M516.7,239.5 L515.8,240.2 L514.7,240.2 L513.8,239.5 L513.8,238.5 L514.7,237.8 L515.8,237.8 L516.7,238.5 L516.7,240.6 L515.6,242.3 L514.5,242.3" stroke="#0f0" stroke-width="1" fill="none" stroke-linejoin="round"/>
<path d="M506.1,251.7 L503.4,251.7 L503.2,253.8 L505.3,253.6 L506.1,254.3 L506.1,255.8 L505.3,256.5 L504.1,256.5 L503.2,255.9 M508.5,256.5 L509.7,256.5 L510.6,255.6 L510.6,252.6 L509.7,251.7 L508.5,251.7 L507.6,252.6 L507.6,255.6 L508.5,256.5 M512.4,256.5 L512.4,256.1 M514.7,254.0 L514.2,253.5 L514.2,252.2 L514.7,251.7 L515.9,251.7 L516.5,252.2 L516.5,253.5 L515.9,254.0 L514.7,254.0 L513.9,254.7 L513.9,255.8 L514.7,256.5 L515.9,256.5 L516.8,255.8 L516.8,254.7 L515.9,254.0" stroke="#0f0" stroke-width="1" fill="none" stroke-linejoin="round"/>
<path d="M506.1,265.5 L503.4,265.5 L503.2,267.5 L505.3,267.3 L506.1,268.0 L506.1,269.3 L505.3,270.0 L504.1,270.0 L503.2,269.4 M508.0,266.3 L509.1,265.5 L509.1,270.0 M508.2,270.0 L509.4,270.0 M512.4,270.0 L512.4,269.6 M514.7,267.6 L514.2,267.2 L514.2,265.9 L514.7,265.5 L515.9,265.5 L516.5,265.9 L516.5,267.2 L515.9,267.6 L514.7,267.6 L513.9,268.3 L513.9,269.3 L514.7,270.0 L515.9,270.0 L516.8,269.3 L516.8,268.3 L515.9,267.6" stroke="#0f0" stroke-width="1" fill="none" stroke-linejoin="round"/>
<path d="M506.1,279.5 L503.4,279.5 L503.2,281.5 L505.3,281.3 L506.1,282.0 L506.1,283.3 L505.3,284.0 L504.1,284.0 L503.2,283.4 M507.6,280.1 L508.3,279.5 L509.8,279.5 L510.6,280.1 L510.6,281.2 L507.6,284.0 L510.6,284.0 M512.4,284.0 L512.4,283.6 M516.1,284.0 L516.1,279.5 L513.9,282.3 L516.8,282.3" stroke="#0f0" stroke-width="1" fill="none" stroke-linejoin="round"/>
<path d="M506.1,294.5 L503.4,294.5 L503.2,296.4 L505.3,296.2 L506.1,296.9 L506.1,298.2 L505.3,298.8 L504.1,298.8 L503.2,298.3 M507.6,295.0 L508.3,294.5 L509.8,294.5 L510.6,295.0 L510.6,296.1 L509.8,296.6 L508.7,296.6 M509.8,296.6 L510.6,297.2 L510.6,298.3 L509.8,298.8 L508.3,298.8 L507.6,298.3 M512.4,298.8 L512.4,298.4 M516.1,298.8 L516.1,294.5 L513.9,297.2 L516.8,297.2" stroke="#0f0" stroke-width="1" fill="none" stroke-linejoin="round"/>
<path d="M506.1,308.5 L503.4,308.5 L503.2,310.3 L505.3,310.2 L506.1,310.8 L506.1,312.1 L505.3,312.7 L504.1,312.7 L503.2,312.2 M509.8,312.7 L509.8,308.5 L507.6,311.1 L510.6,311.1 M512.4,312.7 L512.4,312.3 M516.1,312.7 L516.1,308.5 L513.9,311.1 L516.8,311.1" stroke="#0f0" stroke-width="1" fill="none" stroke-linejoin="round"/>
<path d="M506.4,320.3 L503.4,320.3 L503.2,322.4 L505.4,322.2 L506.4,322.9 L506.4,324.3 L505.4,325.0 L504.2,325.0 L503.2,324.4 M511.2,320.3 L508.2,320.3 L508.0,322.4 L510.2,322.2 L511.2,322.9 L511.2,324.3 L510.2,325.0 L509.0,325.0 L508.0,324.4 M513.2,325.0 L513.2,324.6 M517.2,325.0 L517.2,320.3 L514.8,323.2 L518.0,323.2" stroke="#0f0" stroke-width="1" fill="none" stroke-linejoin="round"/>
<path d="M506.4,335.5 L503.4,335.5 L503.2,337.6 L505.4,337.4 L506.4,338.1 L506.4,339.5 L505.4,340.2 L504.2,340.2 L503.2,339.6 M510.4,335.5 L509.2,335.5 L508.0,336.7 L508.0,339.5 L509.0,340.2 L510.2,340.2 L511.2,339.5 L511.2,338.3 L510.2,337.6 L509.0,337.6 L508.0,338.3 M513.2,340.2 L513.2,339.8 M518.0,335.5 L515.0,335.5 L514.8,337.6 L517.0,337.4 L518.0,338.1 L518.0,339.5 L517.0,340.2 L515.8,340.2 L514.8,339.6" stroke="#0f0" stroke-width="1" fill="none" stroke-linejoin="round"/>
<path d="M509.2,349.5 L507.2,349.5 L507.0,351.2 L508.5,351.1 L509.2,351.7 L509.2,352.9 L508.5,353.5 L507.7,353.5 L507.0,353.0 M511.0,351.4 L510.5,351.0 L510.5,349.9 L511.0,349.5 L511.8,349.5 L512.3,349.9 L512.3,351.0 L511.8,351.4 L511.0,351.4 L510.3,352.0 L510.3,352.9 L511.0,353.5 L511.8,353.5 L512.5,352.9 L512.5,352.0 L511.8,351.4" stroke="#0f0" stroke-width="1" fill="none" stroke-linejoin="round"/>
<path d="M508.6,363.3 L507.8,363.3 L507.0,364.4 L507.0,366.9 L507.7,367.5 L508.5,367.5 L509.2,366.9 L509.2,365.8 L508.5,365.2 L507.7,365.2 L507.0,365.8 M511.0,367.5 L511.8,367.5 L512.5,366.7 L512.5,364.1 L511.8,363.3 L511.0,363.3 L510.3,364.1 L510.3,366.7 L511.0,367.5" stroke="#0f0" stroke-width="1" fill="none" stroke-linejoin="round"/>
<path d="M505.6,376.5 L504.4,376.5 L503.2,377.7 L503.2,380.6 L504.2,381.3 L505.4,381.3 L506.4,380.6 L506.4,379.4 L505.4,378.7 L504.2,378.7 L503.2,379.4 M508.0,377.1 L508.8,376.5 L510.4,376.5 L511.2,377.1 L511.2,378.3 L508.0,381.3 L511.2,381.3 M513.2,381.3 L513.2,380.9 M518.0,376.5 L515.0,376.5 L514.8,378.6 L517.0,378.4 L518.0,379.1 L518.0,380.6 L517.0,381.3 L515.8,381.3 L514.8,380.7" stroke="#0f0" stroke-width="1" fill="none" stroke-linejoin="round"/>
<path d="M506.1,405.7 L503.3,405.7 L503.1,407.5 L505.2,407.4 L506.1,408.0 L506.1,409.3 L505.2,409.9 L504.0,409.9 L503.1,409.4 M507.5,405.7 L510.5,405.7 L508.7,409.9 M512.4,409.9 L512.4,409.5 M513.8,405.7 L516.8,405.7 L514.9,409.9" stroke="#0f0" stroke-width="1" fill="none" stroke-linejoin="round"/>
<path d="M505.3,418.7 L504.2,418.7 L503.1,419.8 L503.1,422.3 L504.0,422.9 L505.2,422.9 L506.1,422.3 L506.1,421.2 L505.2,420.6 L504.0,420.6 L503.1,421.2 M508.4,422.9 L509.6,422.9 L510.5,422.1 L510.5,419.5 L509.6,418.7 L508.4,418.7 L507.5,419.5 L507.5,422.1 L508.4,422.9 M512.4,422.9 L512.4,422.5 M514.7,420.7 L514.1,420.3 L514.1,419.1 L514.7,418.7 L515.9,418.7 L516.5,419.1 L516.5,420.3 L515.9,420.7 L514.7,420.7 L513.8,421.3 L513.8,422.3 L514.7,422.9 L515.9,422.9 L516.8,422.3 L516.8,421.3 L515.9,420.7" stroke="#0f0" stroke-width="1" fill="none" stroke-linejoin="round"/>
<path d="M505.3,432.5 L504.2,432.5 L503.1,433.6 L503.1,436.2 L504.0,436.8 L505.2,436.8 L506.1,436.2 L506.1,435.1 L505.2,434.4 L504.0,434.4 L503.1,435.1 M509.8,436.8 L509.8,432.5 L507.5,435.2 L510.5,435.2 M512.4,436.8 L512.4,436.4 M516.8,432.5 L514.1,432.5 L513.8,434.4 L515.9,434.2 L516.8,434.9 L516.8,436.2 L515.9,436.8 L514.7,436.8 L513.8,436.3" stroke="#0f0" stroke-width="1" fill="none" stroke-linejoin="round"/>
<path d="M505.3,446.5 L504.2,446.5 L503.1,447.6 L503.1,450.1 L504.0,450.7 L505.2,450.7 L506.1,450.1 L506.1,449.0 L505.2,448.4 L504.0,448.4 L503.1,449.0 M508.4,448.5 L507.8,448.1 L507.8,446.9 L508.4,446.5 L509.6,446.5 L510.2,446.9 L510.2,448.1 L509.6,448.5 L508.4,448.5 L507.5,449.1 L507.5,450.1 L508.4,450.7 L509.6,450.7 L510.5,450.1 L510.5,449.1 L509.6,448.5 M512.4,450.7 L512.4,450.3 M513.8,446.5 L516.8,446.5 L514.9,450.7" stroke="#0f0" stroke-width="1" fill="none" stroke-linejoin="round"/>
<path d="M503.1,459.5 L506.1,459.5 L504.2,464.5 M510.5,459.5 L507.8,459.5 L507.5,461.7 L509.6,461.5 L510.5,462.2 L510.5,463.8 L509.6,464.5 L508.4,464.5 L507.5,463.9 M512.4,464.5 L512.4,464.1 M513.8,460.1 L514.6,459.5 L516.1,459.5 L516.8,460.1 L516.8,461.4 L513.8,464.5 L516.8,464.5" stroke="#0f0" stroke-width="1" fill="none" stroke-linejoin="round"/>
<path d="M506.5,476.3 L505.8,475.9 L505.8,474.7 L506.5,474.3 L507.7,474.3 L508.4,474.7 L508.4,475.9 L507.7,476.3 L506.5,476.3 L505.5,476.9 L505.5,477.9 L506.5,478.5 L507.7,478.5 L508.7,477.9 L508.7,476.9 L507.7,476.3 M513.5,475.9 L512.5,476.5 L511.3,476.5 L510.3,475.9 L510.3,474.9 L511.3,474.3 L512.5,474.3 L513.5,474.9 L513.5,476.9 L512.3,478.5 L511.1,478.5 M515.5,478.5 L515.5,478.1 M520.3,475.9 L519.3,476.5 L518.1,476.5 L517.1,475.9 L517.1,474.9 L518.1,474.3 L519.3,474.3 L520.3,474.9 L520.3,476.9 L519.1,478.5 L517.9,478.5" stroke="#0f0" stroke-width="1" fill="none" stroke-linejoin="round"/>
<path d="M508.7,495.0 L509.8,494.2 L509.8,498.5 M508.9,498.5 L510.1,498.5 M512.7,494.7 L513.5,494.2 L514.9,494.2 L515.7,494.7 L515.7,495.8 L512.7,498.5 L515.7,498.5 M518.1,496.2 L517.5,495.8 L517.5,494.6 L518.1,494.2 L519.2,494.2 L519.8,494.6 L519.8,495.8 L519.2,496.2 L518.1,496.2 L517.2,496.9 L517.2,497.9 L518.1,498.5 L519.2,498.5 L520.1,497.9 L520.1,496.9 L519.2,496.2 M522.0,498.5 L522.0,498.1 M525.7,494.2 L524.6,494.2 L523.4,495.3 L523.4,497.9 L524.3,498.5 L525.5,498.5 L526.4,497.9 L526.4,496.8 L525.5,496.1 L524.3,496.1 L523.4,496.8" stroke="#0f0" stroke-width="1" fill="none" stroke-linejoin="round"/>
<path d="M494.6,398.7 L493.7,397.7 L498.5,397.7 M498.5,398.5 L498.5,397.4 M498.5,394.3 L498.5,393.2 L497.6,392.4 L494.6,392.4 L493.7,393.2 L493.7,394.3 L494.6,395.1 L497.6,395.1 L498.5,394.3 M494.3,391.1 L493.7,390.5 L493.7,389.2 L494.3,388.5 L495.5,388.5 L498.5,391.1 L498.5,388.5" stroke="#0f0" stroke-width="1" fill="none" stroke-linejoin="round"/>
<path d="M490.2,479.1 L489.5,478.1 L493.5,478.1 M493.5,478.9 L493.5,477.7 M489.5,473.0 L489.5,474.1 L490.5,475.2 L492.9,475.2 L493.5,474.3 L493.5,473.2 L492.9,472.3 L491.9,472.3 L491.3,473.2 L491.3,474.3 L491.9,475.2 M493.5,470.0 L493.5,468.9 L492.8,468.0 L490.2,468.0 L489.5,468.9 L489.5,470.0 L490.2,470.9 L492.8,470.9 L493.5,470.0" stroke="#0f0" stroke-width="1" fill="none" stroke-linejoin="round"/>
<path d="M490.0,507.0 L487.1,502.9 L489.0,501.6 L489.9,501.7 L490.7,502.7 L490.4,503.7 L488.6,505.0 M489.8,504.1 L492.5,505.3 M491.2,500.8 L491.4,499.9 L492.7,499.0 L493.6,499.1 L494.4,500.1 L493.7,504.4 L496.1,502.7 M494.9,498.3 L495.1,497.3 L496.3,496.5 L497.3,496.5 L498.0,497.6 L497.8,498.5 L496.9,499.1 M497.8,498.5 L498.8,498.6 L499.5,499.6 L499.2,500.5 L498.0,501.4 L497.0,501.3" stroke="#0f0" stroke-width="1" fill="none" stroke-linejoin="round"/>
<path d="M533.8,388.3 L534.6,387.5 L534.6,392.0 M534.0,392.0 L534.9,392.0 M537.5,392.0 L538.5,392.0 L539.1,391.2 L539.1,388.3 L538.5,387.5 L537.5,387.5 L536.9,388.3 L536.9,391.2 L537.5,392.0 M540.9,389.6 L540.5,389.2 L540.5,387.9 L540.9,387.5 L541.8,387.5 L542.3,387.9 L542.3,389.2 L541.8,389.6 L540.9,389.6 L540.2,390.3 L540.2,391.3 L540.9,392.0 L541.8,392.0 L542.5,391.3 L542.5,390.3 L541.8,389.6" stroke="#0f0" stroke-width="1" fill="none" stroke-linejoin="round"/>
<path d="M548.8,388.3 L549.9,387.5 L549.9,392.0 M549.0,392.0 L550.2,392.0 M552.6,388.1 L553.3,387.5 L554.7,387.5 L555.4,388.1 L555.4,389.2 L554.7,389.8 L553.7,389.8 M554.7,389.8 L555.4,390.3 L555.4,391.4 L554.7,392.0 L553.3,392.0 L552.6,391.4 M557.6,392.0 L558.7,392.0 L559.5,391.2 L559.5,388.3 L558.7,387.5 L557.6,387.5 L556.8,388.3 L556.8,391.2 L557.6,392.0" stroke="#0f0" stroke-width="1" fill="none" stroke-linejoin="round"/>
<path d="M566.5,388.3 L567.5,387.5 L567.5,392.0 M566.7,392.0 L567.9,392.0 M570.4,388.1 L571.1,387.5 L572.5,387.5 L573.2,388.1 L573.2,389.2 L572.5,389.8 L571.4,389.8 M572.5,389.8 L573.2,390.3 L573.2,391.4 L572.5,392.0 L571.1,392.0 L570.4,391.4 M575.5,392.0 L576.6,392.0 L577.5,391.2 L577.5,388.3 L576.6,387.5 L575.5,387.5 L574.6,388.3 L574.6,391.2 L575.5,392.0" stroke="#0f0" stroke-width="1" fill="none" stroke-linejoin="round"/>
<path d="M525.4,404.9 L525.0,405.3 L523.9,405.3 L523.5,404.9 L523.5,404.0 L523.9,403.6 L525.0,403.6 L525.4,404.0 L525.4,404.9 L526.0,405.5 L526.9,405.5 L527.5,404.9 L527.5,404.0 L526.9,403.3 L526.0,403.3 L525.4,404.0 M524.2,402.0 L523.5,401.2 L527.5,401.2 M527.5,401.8 L527.5,400.9 M527.5,398.7 L527.1,398.7 M524.0,397.7 L523.5,397.1 L523.5,396.0 L524.0,395.5 L525.0,395.5 L527.5,397.7 L527.5,395.5" stroke="#0f0" stroke-width="1" fill="none" stroke-linejoin="round"/>
<path d="M628.1,387.2 L631.2,387.2 L629.3,392.5 M635.1,387.2 L633.9,387.2 L632.8,388.5 L632.8,391.7 L633.7,392.5 L634.9,392.5 L635.9,391.7 L635.9,390.4 L634.9,389.6 L633.7,389.6 L632.8,390.4 M640.5,387.2 L637.6,387.2 L637.4,389.5 L639.6,389.3 L640.5,390.1 L640.5,391.7 L639.6,392.5 L638.3,392.5 L637.4,391.8" stroke="#0f0" stroke-width="1" fill="none" stroke-linejoin="round"/>
<path d="M688.9,327.9 L690.0,327.0 L690.0,331.8 M689.1,331.8 L690.4,331.8 M694.1,331.8 L695.3,331.8 L696.2,330.9 L696.2,327.9 L695.3,327.0 L694.1,327.0 L693.1,327.9 L693.1,330.9 L694.1,331.8 M698.7,331.8 L700.0,331.8 L700.9,330.9 L700.9,327.9 L700.0,327.0 L698.7,327.0 L697.8,327.9 L697.8,330.9 L698.7,331.8" stroke="#0f0" stroke-width="1" fill="none" stroke-linejoin="round"/>
<path d="M767.4,417.1 L766.5,415.8 L771.2,415.8 M771.2,416.8 L771.2,415.4 M766.5,412.5 L766.5,409.2 L771.2,411.3 M768.7,406.5 L768.3,407.2 L767.0,407.2 L766.5,406.5 L766.5,405.2 L767.0,404.5 L768.3,404.5 L768.7,405.2 L768.7,406.5 L769.4,407.5 L770.5,407.5 L771.2,406.5 L771.2,405.2 L770.5,404.2 L769.4,404.2 L768.7,405.2" stroke="#0f0" stroke-width="1" fill="none" stroke-linejoin="round"/>
<path d="M799.7,422.5 L799.2,421.6 L799.2,419.9 L799.7,419.1 L800.8,419.1 L801.4,419.9 L801.4,421.2 M801.4,419.9 L801.9,419.1 L803.0,419.1 L803.5,419.9 L803.5,421.6 L803.0,422.5 M799.2,413.9 L799.2,417.1 L801.1,417.3 L800.9,414.9 L801.6,413.9 L802.9,413.9 L803.5,414.9 L803.5,416.3 L803.0,417.3" stroke="#0f0" stroke-width="1" fill="none" stroke-linejoin="round"/>
<path d="M818.0,417.7 L817.5,417.0 L817.5,415.6 L818.0,414.9 L819.1,414.9 L819.6,415.6 L819.6,416.7 M819.6,415.6 L820.1,414.9 L821.2,414.9 L821.7,415.6 L821.7,417.0 L821.2,417.7 M817.5,410.8 L817.5,413.4 L819.3,413.6 L819.2,411.6 L819.8,410.8 L821.1,410.8 L821.7,411.6 L821.7,412.7 L821.2,413.6" stroke="#0f0" stroke-width="1" fill="none" stroke-linejoin="round"/>
<path d="M851.0,378.4 L851.0,381.7 L852.8,382.0 L852.6,379.5 L853.2,378.4 L854.4,378.4 L855.0,379.5 L855.0,380.9 L854.5,382.0 M851.5,376.6 L851.0,375.8 L851.0,374.0 L851.5,373.1 L852.5,373.1 L855.0,376.6 L855.0,373.1 M855.0,370.9 L854.6,370.9 M852.9,368.0 L852.5,368.7 L851.4,368.7 L851.0,368.0 L851.0,366.6 L851.4,365.9 L852.5,365.9 L852.9,366.6 L852.9,368.0 L853.5,369.1 L854.4,369.1 L855.0,368.0 L855.0,366.6 L854.4,365.5 L853.5,365.5 L852.9,366.6" stroke="#0f0" stroke-width="1" fill="none" stroke-linejoin="round"/>
<path d="M865.1,383.6 L864.2,382.1 L868.9,382.1 M868.9,383.3 L868.9,381.6 M866.0,374.2 L866.7,375.4 L866.7,376.9 L866.0,378.1 L864.9,378.1 L864.2,376.9 L864.2,375.4 L864.9,374.2 L867.1,374.2 L868.9,375.7 L868.9,377.1 M864.2,372.2 L864.2,368.2 L868.9,370.7" stroke="#0f0" stroke-width="1" fill="none" stroke-linejoin="round"/>
<path d="M884.8,383.9 L884.0,382.6 L888.5,382.6 M888.5,383.6 L888.5,382.2 M885.7,375.8 L886.4,376.8 L886.4,378.2 L885.7,379.2 L884.7,379.2 L884.0,378.2 L884.0,376.8 L884.7,375.8 L886.8,375.8 L888.5,377.1 L888.5,378.4 M884.0,374.1 L884.0,370.7 L888.5,372.8 M888.5,368.6 L888.1,368.6 M885.7,363.5 L886.4,364.5 L886.4,365.9 L885.7,366.9 L884.7,366.9 L884.0,365.9 L884.0,364.5 L884.7,363.5 L886.8,363.5 L888.5,364.8 L888.5,366.0" stroke="#0f0" stroke-width="1" fill="none" stroke-linejoin="round"/>
<path d="M864.2,409.2 L864.2,410.4 L865.4,411.7 L868.2,411.7 L868.9,410.7 L868.9,409.3 L868.2,408.3 L867.0,408.3 L866.3,409.3 L866.3,410.7 L867.0,411.7 M868.9,405.7 L868.9,404.3 L868.0,403.3 L865.1,403.3 L864.2,404.3 L864.2,405.7 L865.1,406.7 L868.0,406.7 L868.9,405.7" stroke="#0f0" stroke-width="1" fill="none" stroke-linejoin="round"/>
<path d="M629.5,435.1 L629.5,430.0 L631.7,430.0 L632.4,430.6 L632.4,431.9 L631.7,432.6 L629.5,432.6 M631.0,432.6 L632.4,435.1 M633.9,430.6 L634.6,430.0 L636.0,430.0 L636.8,430.6 L636.8,431.9 L633.9,435.1 L636.8,435.1 M639.1,435.1 L640.2,435.1 L641.1,434.1 L641.1,431.0 L640.2,430.0 L639.1,430.0 L638.2,431.0 L638.2,434.1 L639.1,435.1 M643.4,435.1 L644.6,435.1 L645.5,434.1 L645.5,431.0 L644.6,430.0 L643.4,430.0 L642.5,431.0 L642.5,434.1 L643.4,435.1 M647.8,435.1 L648.9,435.1 L649.8,434.1 L649.8,431.0 L648.9,430.0 L647.8,430.0 L646.9,431.0 L646.9,434.1 L647.8,435.1 M652.1,435.1 L653.3,435.1 L654.1,434.1 L654.1,431.0 L653.3,430.0 L652.1,430.0 L651.2,431.0 L651.2,434.1 L652.1,435.1 M656.5,435.1 L657.6,435.1 L658.5,434.1 L658.5,431.0 L657.6,430.0 L656.5,430.0 L655.6,431.0 L655.6,434.1 L656.5,435.1" stroke="#0f0" stroke-width="1" fill="none" stroke-linejoin="round"/>
<path d="M598.5,445.1 L598.5,440.1 L600.7,440.1 L601.4,440.7 L601.4,442.0 L600.7,442.6 L598.5,442.6 M600.0,442.6 L601.4,445.1 M603.2,441.0 L604.3,440.1 L604.3,445.1 M603.5,445.1 L604.7,445.1 M607.3,440.7 L608.0,440.1 L609.4,440.1 L610.2,440.7 L610.2,442.0 L607.3,445.1 L610.2,445.1 M612.0,441.0 L613.1,440.1 L613.1,445.1 M612.2,445.1 L613.5,445.1 M616.9,445.1 L618.0,445.1 L618.9,444.2 L618.9,441.0 L618.0,440.1 L616.9,440.1 L616.0,441.0 L616.0,444.2 L616.9,445.1 M623.3,440.1 L620.6,440.1 L620.4,442.3 L622.4,442.1 L623.3,442.9 L623.3,444.4 L622.4,445.1 L621.3,445.1 L620.4,444.5 M625.1,445.1 L625.1,444.7 M627.5,442.5 L626.9,442.0 L626.9,440.6 L627.5,440.1 L628.6,440.1 L629.2,440.6 L629.2,442.0 L628.6,442.5 L627.5,442.5 L626.6,443.2 L626.6,444.4 L627.5,445.1 L628.6,445.1 L629.5,444.4 L629.5,443.2 L628.6,442.5" stroke="#0f0" stroke-width="1" fill="none" stroke-linejoin="round"/>
<path d="M676.6,441.0 L677.7,440.0 L677.7,445.1 M676.8,445.1 L678.1,445.1 M683.5,440.0 L680.8,440.0 L680.6,442.2 L682.7,442.0 L683.5,442.8 L683.5,444.3 L682.7,445.1 L681.5,445.1 L680.6,444.5 M687.9,441.9 L687.0,442.7 L685.9,442.7 L685.0,441.9 L685.0,440.8 L685.9,440.0 L687.0,440.0 L687.9,440.8 L687.9,443.2 L686.8,445.1 L685.7,445.1 M689.4,440.0 L692.3,440.0 L690.5,445.1 M694.1,445.1 L694.1,444.7 M696.5,445.1 L697.6,445.1 L698.5,444.1 L698.5,441.0 L697.6,440.0 L696.5,440.0 L695.6,441.0 L695.6,444.1 L696.5,445.1" stroke="#0f0" stroke-width="1" fill="none" stroke-linejoin="round"/>
<path d="M731.5,453.3 L731.5,448.8 L733.8,448.8 L734.5,449.4 L734.5,450.5 L733.8,451.1 L731.5,451.1 M733.0,451.1 L734.5,453.3 M736.0,449.4 L736.8,448.8 L738.2,448.8 L739.0,449.4 L739.0,450.5 L736.0,453.3 L739.0,453.3 M741.4,453.3 L742.6,453.3 L743.5,452.5 L743.5,449.6 L742.6,448.8 L741.4,448.8 L740.5,449.6 L740.5,452.5 L741.4,453.3 M745.9,453.3 L747.1,453.3 L748.0,452.5 L748.0,449.6 L747.1,448.8 L745.9,448.8 L745.0,449.6 L745.0,452.5 L745.9,453.3 M750.4,453.3 L751.6,453.3 L752.5,452.5 L752.5,449.6 L751.6,448.8 L750.4,448.8 L749.5,449.6 L749.5,452.5 L750.4,453.3 M754.9,453.3 L756.1,453.3 L757.0,452.5 L757.0,449.6 L756.1,448.8 L754.9,448.8 L754.0,449.6 L754.0,452.5 L754.9,453.3" stroke="#0f0" stroke-width="1" fill="none" stroke-linejoin="round"/>
<path d="M628.5,451.2 L631.6,451.2 L629.7,455.5 M635.4,451.2 L634.3,451.2 L633.1,452.3 L633.1,454.9 L634.0,455.5 L635.3,455.5 L636.2,454.9 L636.2,453.8 L635.3,453.1 L634.0,453.1 L633.1,453.8 M640.0,455.5 L640.0,451.2 L637.7,453.9 L640.8,453.9" stroke="#0f0" stroke-width="1" fill="none" stroke-linejoin="round"/>
<path d="M577.2,459.0 L577.2,455.2 L578.6,453.0 L580.0,455.2 L580.0,459.0 M577.2,456.4 L580.0,456.4 M584.0,453.0 L581.3,453.0 L581.3,459.0 M581.3,456.0 L583.3,456.0" stroke="#0f0" stroke-width="1" fill="none" stroke-linejoin="round"/>
<path d="M598.5,453.0 L601.7,453.0 L599.7,459.0 M603.3,459.0 L603.3,455.2 L604.9,453.0 L606.5,455.2 L606.5,459.0 M603.3,456.4 L606.5,456.4" stroke="#0f0" stroke-width="1" fill="none" stroke-linejoin="round"/>
<path d="M691.4,471.4 L690.5,470.3 L695.3,470.3 M695.3,471.2 L695.3,469.9 M690.5,464.1 L690.5,467.0 L692.6,467.2 L692.4,465.0 L693.1,464.1 L694.6,464.1 L695.3,465.0 L695.3,466.3 L694.7,467.2 M695.3,461.7 L695.3,460.4 L694.4,459.5 L691.4,459.5 L690.5,460.4 L690.5,461.7 L691.4,462.6 L694.4,462.6 L695.3,461.7" stroke="#0f0" stroke-width="1" fill="none" stroke-linejoin="round"/>
<path d="M673.5,486.2 L672.9,485.4 L672.9,483.7 L673.5,482.8 L674.6,482.8 L677.5,486.2 L677.5,482.8 M673.5,481.1 L672.9,480.3 L672.9,478.6 L673.5,477.7 L674.6,477.7 L675.2,478.6 L675.2,479.8 M675.2,478.6 L675.8,477.7 L676.9,477.7 L677.5,478.6 L677.5,480.3 L676.9,481.1 M677.5,475.6 L677.1,475.6 M672.9,470.5 L672.9,473.6 L674.9,473.9 L674.7,471.5 L675.4,470.5 L676.8,470.5 L677.5,471.5 L677.5,472.9 L676.9,473.9" stroke="#0f0" stroke-width="1" fill="none" stroke-linejoin="round"/>
<path d="M679.5,490.9 L679.5,486.3 L677.0,489.2 L680.3,489.2 M682.0,486.9 L682.9,486.3 L684.5,486.3 L685.4,486.9 L685.4,488.0 L682.0,490.9 L685.4,490.9 M689.6,490.9 L689.6,486.3 L687.0,489.2 L690.4,489.2 M692.5,490.9 L692.5,490.5 M697.5,488.0 L696.5,488.7 L695.2,488.7 L694.2,488.0 L694.2,487.0 L695.2,486.3 L696.5,486.3 L697.5,487.0 L697.5,489.2 L696.2,490.9 L695.0,490.9" stroke="#0f0" stroke-width="1" fill="none" stroke-linejoin="round"/>
<path d="M680.3,498.0 L677.3,498.0 L677.0,500.2 L679.3,500.0 L680.3,500.8 L680.3,502.2 L679.3,503.0 L678.0,503.0 L677.0,502.4 M685.4,499.9 L684.4,500.6 L683.0,500.6 L682.0,499.9 L682.0,498.8 L683.0,498.0 L684.4,498.0 L685.4,498.8 L685.4,501.1 L684.1,503.0 L682.9,503.0 M687.0,498.6 L687.9,498.0 L689.6,498.0 L690.4,498.6 L690.4,499.9 L687.0,503.0 L690.4,503.0 M692.5,503.0 L692.5,502.6 M696.7,503.0 L696.7,498.0 L694.2,501.1 L697.5,501.1" stroke="#0f0" stroke-width="1" fill="none" stroke-linejoin="round"/>
<path d="M679.5,507.0 L678.3,507.0 L677.0,508.2 L677.0,511.2 L678.0,511.9 L679.3,511.9 L680.3,511.2 L680.3,509.9 L679.3,509.2 L678.0,509.2 L677.0,509.9 M685.4,507.0 L682.3,507.0 L682.0,509.1 L684.4,509.0 L685.4,509.7 L685.4,511.2 L684.4,511.9 L683.0,511.9 L682.0,511.3 M690.4,507.0 L687.3,507.0 L687.0,509.1 L689.4,509.0 L690.4,509.7 L690.4,511.2 L689.4,511.9 L688.0,511.9 L687.0,511.3 M692.5,511.9 L692.5,511.5 M694.6,507.9 L695.8,507.0 L695.8,511.9 M694.8,511.9 L696.2,511.9" stroke="#0f0" stroke-width="1" fill="none" stroke-linejoin="round"/>
<path d="M675.9,519.5 L677.1,518.5 L677.1,523.8 M676.1,523.8 L677.5,523.8 M680.2,519.2 L681.0,518.5 L682.6,518.5 L683.4,519.2 L683.4,520.5 L682.6,521.1 L681.4,521.1 M682.6,521.1 L683.4,521.8 L683.4,523.1 L682.6,523.8 L681.0,523.8 L680.2,523.1 M688.1,520.5 L687.1,521.3 L685.9,521.3 L684.9,520.5 L684.9,519.3 L685.9,518.5 L687.1,518.5 L688.1,519.3 L688.1,521.8 L686.9,523.8 L685.7,523.8 M690.6,523.8 L691.9,523.8 L692.8,522.8 L692.8,519.5 L691.9,518.5 L690.6,518.5 L689.7,519.5 L689.7,522.8 L690.6,523.8 M694.8,523.8 L694.8,523.3 M699.5,518.5 L696.6,518.5 L696.4,520.8 L698.6,520.6 L699.5,521.4 L699.5,523.0 L698.6,523.8 L697.3,523.8 L696.4,523.1" stroke="#0f0" stroke-width="1" fill="none" stroke-linejoin="round"/>
<path d="M550.5,456.5 L547.5,451.9 L549.7,450.5 L550.8,450.6 L551.5,451.7 L551.2,452.8 L549.0,454.2 M550.4,453.3 L553.4,454.6 M552.7,449.7 L553.3,448.2 L556.3,452.8 M555.4,453.3 L556.6,452.5 M556.5,446.9 L556.8,445.8 L558.3,444.9 L559.4,445.0 L560.1,446.1 L559.8,447.2 L558.7,447.9 M559.8,447.2 L560.9,447.3 L561.6,448.5 L561.3,449.5 L559.8,450.4 L558.8,450.3 M565.6,446.7 L562.6,442.1 L562.3,446.4 L565.2,444.5 M566.9,439.3 L565.8,440.0 L565.5,441.8 L567.3,444.6 L568.6,444.7 L569.8,444.0 L570.2,442.7 L569.4,441.6 L568.1,441.5 L567.0,442.2 L566.6,443.5" stroke="#0f0" stroke-width="1" fill="none" stroke-linejoin="round"/>
<path d="M579.1,537.7 L579.1,533.6 L580.5,531.2 L581.8,533.6 L581.8,537.7 M579.1,534.9 L581.8,534.9 M585.2,534.5 L588.0,534.5 M591.4,537.7 L591.4,533.6 L592.7,531.2 L594.1,533.6 L594.1,537.7 M591.4,534.9 L594.1,534.9" stroke="#0f0" stroke-width="1" fill="none" stroke-linejoin="round"/>
<path d="M569.2,538.1 L570.1,537.5 L571.9,537.5 L572.8,538.1 L572.8,539.4 L569.2,542.5 L572.8,542.5 M578.1,537.5 L574.8,537.5 L574.6,539.7 L577.0,539.5 L578.1,540.2 L578.1,541.8 L577.0,542.5 L575.6,542.5 L574.6,541.9" stroke="#0f0" stroke-width="1" fill="none" stroke-linejoin="round"/>
<path d="M582.3,604.5 L579.3,604.5 L579.1,606.7 L581.3,606.5 L582.3,607.2 L582.3,608.8 L581.3,609.5 L580.0,609.5 L579.1,608.9 M584.8,609.5 L586.1,609.5 L587.0,608.6 L587.0,605.4 L586.1,604.5 L584.8,604.5 L583.8,605.4 L583.8,608.6 L584.8,609.5" stroke="#0f0" stroke-width="1" fill="none" stroke-linejoin="round"/>
</svg></body></html>
